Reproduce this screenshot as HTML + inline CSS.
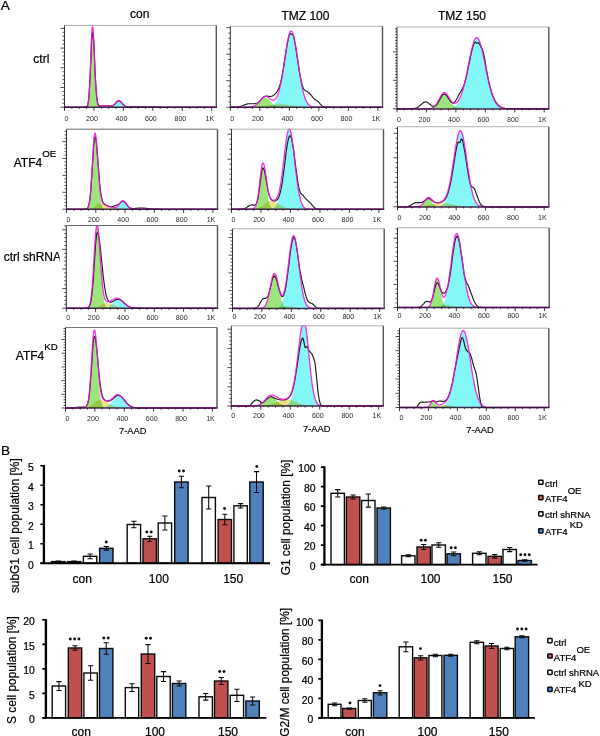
<!DOCTYPE html>
<html><head><meta charset="utf-8"><title>Figure</title>
<style>
html,body{margin:0;padding:0;background:#fff;}
body{width:600px;height:736px;overflow:hidden;}
svg{display:block;}
svg text{font-family:"Liberation Sans",sans-serif;fill:#000;stroke:#000;stroke-width:0.22px;}
.pl{font-size:13.6px;}
.hd{font-size:12px;text-anchor:middle;}
.rl{font-size:12px;}
.sup{font-size:9.7px;}
.tk{font-size:7.1px;text-anchor:middle;fill:#2a2a2a;stroke:none;}
.aad{font-size:9.3px;text-anchor:middle;fill:#111;stroke-width:0.2px;}
.yl{font-size:10.4px;text-anchor:end;}
.cat{font-size:12px;text-anchor:middle;}
.st{font-size:9px;text-anchor:middle;}
.ttl{font-size:11.9px;text-anchor:middle;}
.lg{font-size:9.5px;}
</style></head>
<body>
<svg width="600" height="736" viewBox="0 0 600 736">
<rect width="600" height="736" fill="#fff"/>
<text x="0.8" y="10.2" class="pl">A</text>
<text x="1.0" y="454.6" class="pl">B</text>
<text x="139.8" y="18.4" class="hd">con</text>
<text x="305.4" y="19.6" class="hd">TMZ 100</text>
<text x="462" y="20.4" class="hd">TMZ 150</text>
<text x="33.3" y="63" class="rl">ctrl</text>
<text x="13.7" y="166.8" class="rl">ATF4<tspan dy="-10.1" class="sup">OE</tspan></text>
<svg x="0" y="240" width="59.6" height="30" viewBox="0 240 59.6 30"><text x="3.7" y="261.3" class="rl">ctrl shRNA</text></svg>
<text x="15.8" y="359.8" class="rl">ATF4<tspan dy="-9.7" class="sup">KD</tspan></text>
<g>
<path d="M88.0,107.20 L88.0,107.19 L88.8,107.19 L89.5,107.18 L90.2,107.17 L91.0,107.15 L91.8,107.13 L92.5,107.09 L93.2,107.05 L94.0,107.00 L94.8,106.93 L95.5,106.85 L96.2,106.75 L97.0,106.64 L97.8,106.51 L98.5,106.38 L99.2,106.24 L100.0,106.11 L100.8,105.99 L101.5,105.88 L102.2,105.79 L103.0,105.73 L103.8,105.70 L104.5,105.70 L105.2,105.72 L106.0,105.76 L106.8,105.81 L107.5,105.88 L108.2,105.95 L109.0,106.04 L109.8,106.13 L110.5,106.23 L111.2,106.32 L112.0,106.42 L112.8,106.51 L113.5,106.60 L114.2,106.69 L115.0,106.76 L115.8,106.83 L116.5,106.90 L117.2,106.95 L118.0,107.00 L118.8,107.04 L119.5,107.07 L120.2,107.10 L121.0,107.12 L121.8,107.14 L122.5,107.15 L123.2,107.17 L124.0,107.17 L124.8,107.18 L125.5,107.19 L126.2,107.19 L126.2,107.20 Z" fill="#f3e08c" style="mix-blend-mode:multiply"/>
<path d="M86.9,107.20 L86.9,106.71 L87.7,105.45 L88.4,101.96 L89.2,94.16 L89.9,80.17 L90.7,60.59 L91.4,40.31 L92.2,27.31 L92.9,27.40 L93.7,38.71 L94.4,56.50 L95.2,74.83 L95.9,89.38 L96.7,98.73 L97.4,103.73 L98.2,105.97 L98.2,107.20 Z" fill="#9be57c" style="mix-blend-mode:multiply"/>
<path d="M109.2,107.20 L109.2,107.16 L109.9,107.11 L110.7,107.03 L111.4,106.87 L112.2,106.61 L112.9,106.21 L113.7,105.64 L114.4,104.89 L115.2,103.99 L115.9,103.00 L116.7,102.03 L117.4,101.24 L118.2,100.73 L118.9,100.61 L119.7,100.87 L120.4,101.47 L121.2,102.31 L121.9,103.26 L122.7,104.21 L123.4,105.06 L124.2,105.75 L124.9,106.28 L125.7,106.65 L126.4,106.89 L127.2,107.03 L127.9,107.12 L128.7,107.16 L128.7,107.20 Z" fill="#84f7f7" style="mix-blend-mode:multiply"/>
<path d="M64.5,107.20 L65.2,107.20 L66.0,107.20 L66.8,107.20 L67.5,107.20 L68.2,107.20 L69.0,107.20 L69.8,107.20 L70.5,107.20 L71.2,107.20 L72.0,107.20 L72.8,107.20 L73.5,107.20 L74.2,107.20 L75.0,107.20 L75.8,107.20 L76.5,107.20 L77.2,107.20 L78.0,107.20 L78.8,107.20 L79.5,107.20 L80.2,107.20 L81.0,107.20 L81.8,107.20 L82.5,107.20 L83.2,107.20 L84.0,107.20 L84.8,107.19 L85.5,107.15 L86.2,106.99 L87.0,106.42 L87.8,104.76 L88.5,100.71 L89.2,92.53 L90.0,79.05 L90.8,61.36 L91.5,43.86 L92.2,32.94 L93.0,32.98 L93.8,42.50 L94.5,57.80 L95.2,74.11 L96.0,87.67 L96.8,96.91 L97.5,102.17 L98.2,104.68 L99.0,105.65 L99.8,105.91 L100.5,105.90 L101.2,105.81 L102.0,105.72 L102.8,105.65 L103.5,105.61 L104.2,105.60 L105.0,105.62 L105.8,105.65 L106.5,105.70 L107.2,105.76 L108.0,105.83 L108.8,105.90 L109.5,105.96 L110.2,106.00 L111.0,105.99 L111.8,105.90 L112.5,105.70 L113.2,105.35 L114.0,104.84 L114.8,104.17 L115.5,103.38 L116.2,102.54 L117.0,101.76 L117.8,101.16 L118.5,100.84 L119.2,100.86 L120.0,101.19 L120.8,101.77 L121.5,102.54 L122.2,103.39 L123.0,104.23 L123.8,104.98 L124.5,105.61 L125.2,106.10 L126.0,106.45 L126.8,106.68 L127.5,106.82 L128.2,106.89 L129.0,106.93 L129.8,106.94 L130.5,106.93 L131.2,106.91 L132.0,106.90 L132.8,106.88 L133.5,106.86 L134.2,106.84 L135.0,106.83 L135.8,106.82 L136.5,106.81 L137.2,106.80 L138.0,106.80 L138.8,106.80 L139.5,106.81 L140.2,106.82 L141.0,106.83 L141.8,106.84 L142.5,106.86 L143.2,106.88 L144.0,106.90 L144.8,106.92 L145.5,106.94 L146.2,106.96 L147.0,106.99 L147.8,107.01 L148.5,107.03 L149.2,107.05 L150.0,107.07 L150.8,107.09 L151.5,107.10 L152.2,107.12 L153.0,107.13 L153.8,107.14 L154.5,107.15 L155.2,107.16 L156.0,107.17 L156.8,107.17 L157.5,107.18 L158.2,107.18 L159.0,107.19 L159.8,107.19 L160.5,107.19 L161.2,107.19 L162.0,107.20 L162.8,107.20 L163.5,107.20 L164.2,107.20 L165.0,107.20 L165.8,107.20 L166.5,107.20 L167.2,107.20 L168.0,107.20 L168.8,107.20 L169.5,107.20 L170.2,107.20 L171.0,107.20 L171.8,107.20 L172.5,107.20 L173.2,107.20 L174.0,107.20 L174.8,107.20 L175.5,107.20 L176.2,107.20 L177.0,107.20 L177.8,107.20 L178.5,107.20 L179.2,107.20 L180.0,107.20 L180.8,107.20 L181.5,107.20 L182.2,107.20 L183.0,107.20 L183.8,107.20 L184.5,107.20 L185.2,107.20 L186.0,107.20 L186.8,107.20 L187.5,107.20 L188.2,107.20 L189.0,107.20 L189.8,107.20 L190.5,107.20 L191.2,107.20 L192.0,107.20 L192.8,107.20 L193.5,107.20 L194.2,107.20 L195.0,107.20 L195.8,107.20 L196.5,107.20 L197.2,107.20 L198.0,107.20 L198.8,107.20 L199.5,107.20 L200.2,107.20 L201.0,107.20 L201.8,107.20 L202.5,107.20 L203.2,107.20 L204.0,107.20 L204.8,107.20 L205.5,107.20 L206.2,107.20 L207.0,107.20 L207.8,107.20 L208.5,107.20 L209.2,107.20 L210.0,107.20 L210.8,107.20 L211.5,107.20 L212.2,107.20 L213.0,107.20 L213.8,107.20 L214.5,107.20 L215.2,107.20" fill="none" stroke="#1c1c1c" stroke-width="1.15" stroke-linejoin="round"/>
<path d="M64.5,107.20 L65.2,107.20 L66.0,107.20 L66.8,107.20 L67.5,107.20 L68.2,107.20 L69.0,107.20 L69.8,107.20 L70.5,107.20 L71.2,107.20 L72.0,107.20 L72.8,107.20 L73.5,107.20 L74.2,107.20 L75.0,107.20 L75.8,107.20 L76.5,107.20 L77.2,107.20 L78.0,107.20 L78.8,107.20 L79.5,107.20 L80.2,107.20 L81.0,107.20 L81.8,107.20 L82.5,107.20 L83.2,107.20 L84.0,107.20 L84.8,107.19 L85.5,107.17 L86.2,107.06 L87.0,106.61 L87.8,105.14 L88.5,101.21 L89.2,92.65 L90.0,77.79 L90.8,57.72 L91.5,37.91 L92.2,26.43 L93.0,28.20 L93.8,40.65 L94.5,58.79 L95.2,76.73 L96.0,90.50 L96.8,99.10 L97.5,103.51 L98.2,105.37 L99.0,105.98 L99.8,106.07 L100.5,106.01 L101.2,105.91 L102.0,105.81 L102.8,105.75 L103.5,105.71 L104.2,105.70 L105.0,105.72 L105.8,105.75 L106.5,105.79 L107.2,105.85 L108.0,105.92 L108.8,105.98 L109.5,106.04 L110.2,106.08 L111.0,106.07 L111.8,105.97 L112.5,105.75 L113.2,105.38 L114.0,104.82 L114.8,104.09 L115.5,103.21 L116.2,102.28 L117.0,101.42 L117.8,100.77 L118.5,100.46 L119.2,100.53 L120.0,100.97 L120.8,101.70 L121.5,102.62 L122.2,103.60 L123.0,104.53 L123.8,105.33 L124.5,105.96 L125.2,106.43 L126.0,106.74 L126.8,106.95 L127.5,107.07 L128.2,107.13 L129.0,107.17 L129.8,107.19 L130.5,107.19 L131.2,107.20 L132.0,107.20 L132.8,107.20 L133.5,107.20 L134.2,107.20 L135.0,107.20 L135.8,107.20 L136.5,107.20 L137.2,107.20 L138.0,107.20 L138.8,107.20 L139.5,107.20 L140.2,107.20 L141.0,107.20 L141.8,107.20 L142.5,107.20 L143.2,107.20 L144.0,107.20 L144.8,107.20 L145.5,107.20 L146.2,107.20 L147.0,107.20 L147.8,107.20 L148.5,107.20 L149.2,107.20 L150.0,107.20 L150.8,107.20 L151.5,107.20 L152.2,107.20 L153.0,107.20 L153.8,107.20 L154.5,107.20 L155.2,107.20 L156.0,107.20 L156.8,107.20 L157.5,107.20 L158.2,107.20 L159.0,107.20 L159.8,107.20 L160.5,107.20 L161.2,107.20 L162.0,107.20 L162.8,107.20 L163.5,107.20 L164.2,107.20 L165.0,107.20 L165.8,107.20 L166.5,107.20 L167.2,107.20 L168.0,107.20 L168.8,107.20 L169.5,107.20 L170.2,107.20 L171.0,107.20 L171.8,107.20 L172.5,107.20 L173.2,107.20 L174.0,107.20 L174.8,107.20 L175.5,107.20 L176.2,107.20 L177.0,107.20 L177.8,107.20 L178.5,107.20 L179.2,107.20 L180.0,107.20 L180.8,107.20 L181.5,107.20 L182.2,107.20 L183.0,107.20 L183.8,107.20 L184.5,107.20 L185.2,107.20 L186.0,107.20 L186.8,107.20 L187.5,107.20 L188.2,107.20 L189.0,107.20 L189.8,107.20 L190.5,107.20 L191.2,107.20 L192.0,107.20 L192.8,107.20 L193.5,107.20 L194.2,107.20 L195.0,107.20 L195.8,107.20 L196.5,107.20 L197.2,107.20 L198.0,107.20 L198.8,107.20 L199.5,107.20 L200.2,107.20 L201.0,107.20 L201.8,107.20 L202.5,107.20 L203.2,107.20 L204.0,107.20 L204.8,107.20 L205.5,107.20 L206.2,107.20 L207.0,107.20 L207.8,107.20 L208.5,107.20 L209.2,107.20 L210.0,107.20 L210.8,107.20 L211.5,107.20 L212.2,107.20 L213.0,107.20 L213.8,107.20 L214.5,107.20 L215.2,107.20" fill="none" stroke="#f014dc" stroke-width="1.3" stroke-linejoin="round" opacity="0.88"/>
<path d="M64.5,25.4 H216.3" stroke="#b0b0b0" stroke-width="1" fill="none"/>
<path d="M216.3,25.4 V107.2" stroke="#555" stroke-width="1.4" fill="none"/>
<path d="M64.5,25.4 V107.2" stroke="#333" stroke-width="1.0" fill="none"/>
<path d="M64.0,107.30 H217.0" stroke="#30103a" stroke-width="1.5" fill="none" opacity="0.9"/>
<path d="M64.50,107.2 v3.6 M71.86,107.2 v1.6 M79.22,107.2 v1.6 M86.58,107.2 v1.6 M93.94,107.2 v3.6 M101.30,107.2 v1.6 M108.66,107.2 v1.6 M116.02,107.2 v1.6 M123.38,107.2 v3.6 M130.74,107.2 v1.6 M138.10,107.2 v1.6 M145.46,107.2 v1.6 M152.82,107.2 v3.6 M160.18,107.2 v1.6 M167.54,107.2 v1.6 M174.90,107.2 v1.6 M182.26,107.2 v3.6 M189.62,107.2 v1.6 M196.98,107.2 v1.6 M204.34,107.2 v1.6 M211.70,107.2 v3.6" stroke="#222" stroke-width="0.9" fill="none"/>
<path d="M64.5,107.20 h-4.0 M64.5,103.26 h-2.0 M64.5,99.32 h-2.0 M64.5,95.38 h-2.0 M64.5,91.44 h-2.0 M64.5,87.50 h-4.0 M64.5,83.56 h-2.0 M64.5,79.62 h-2.0 M64.5,75.68 h-2.0 M64.5,71.74 h-2.0 M64.5,67.80 h-4.0 M64.5,63.86 h-2.0 M64.5,59.92 h-2.0 M64.5,55.98 h-2.0 M64.5,52.04 h-2.0 M64.5,48.10 h-4.0 M64.5,44.16 h-2.0 M64.5,40.22 h-2.0 M64.5,36.28 h-2.0 M64.5,32.34 h-2.0 M64.5,28.40 h-4.0" stroke="#222" stroke-width="0.8" fill="none"/>
<text x="66.5" y="121.1" class="tk">0</text>
<text x="92.0" y="121.1" class="tk">200</text>
<text x="121.5" y="121.1" class="tk">400</text>
<text x="150.9" y="121.1" class="tk">600</text>
<text x="180.4" y="121.1" class="tk">800</text>
<text x="209.8" y="121.1" class="tk">1K</text>
</g>
<g>
<path d="M244.8,107.20 L244.8,107.18 L245.6,107.18 L246.3,107.17 L247.1,107.17 L247.8,107.16 L248.6,107.15 L249.3,107.14 L250.1,107.13 L250.8,107.11 L251.6,107.10 L252.3,107.08 L253.1,107.06 L253.8,107.03 L254.6,107.00 L255.3,106.97 L256.1,106.93 L256.8,106.89 L257.6,106.84 L258.3,106.79 L259.1,106.73 L259.8,106.66 L260.6,106.59 L261.3,106.52 L262.1,106.43 L262.8,106.35 L263.6,106.25 L264.3,106.15 L265.1,106.05 L265.8,105.94 L266.6,105.83 L267.3,105.71 L268.1,105.59 L268.8,105.47 L269.6,105.35 L270.3,105.23 L271.1,105.12 L271.8,105.00 L272.6,104.89 L273.3,104.79 L274.1,104.69 L274.8,104.61 L275.6,104.53 L276.3,104.46 L277.1,104.40 L277.8,104.36 L278.6,104.33 L279.3,104.31 L280.1,104.30 L280.8,104.31 L281.6,104.33 L282.3,104.36 L283.1,104.41 L283.8,104.47 L284.6,104.54 L285.3,104.62 L286.1,104.71 L286.8,104.80 L287.6,104.91 L288.3,105.02 L289.1,105.13 L289.8,105.25 L290.6,105.37 L291.3,105.49 L292.1,105.61 L292.8,105.73 L293.6,105.84 L294.3,105.95 L295.1,106.06 L295.8,106.17 L296.6,106.26 L297.3,106.36 L298.1,106.45 L298.8,106.53 L299.6,106.60 L300.3,106.67 L301.1,106.74 L301.8,106.79 L302.6,106.85 L303.3,106.89 L304.1,106.93 L304.8,106.97 L305.6,107.00 L306.3,107.03 L307.1,107.06 L307.8,107.08 L308.6,107.10 L309.3,107.12 L310.1,107.13 L310.8,107.14 L311.6,107.15 L312.3,107.16 L313.1,107.17 L313.8,107.17 L314.6,107.18 L314.6,107.20 Z" fill="#f3e08c" style="mix-blend-mode:multiply"/>
<path d="M248.6,107.20 L248.6,107.14 L249.3,107.11 L250.1,107.06 L250.8,106.99 L251.6,106.89 L252.3,106.76 L253.1,106.57 L253.8,106.33 L254.6,106.02 L255.3,105.63 L256.1,105.15 L256.8,104.59 L257.6,103.94 L258.3,103.21 L259.1,102.42 L259.8,101.59 L260.6,100.75 L261.3,99.94 L262.1,99.20 L262.8,98.56 L263.6,98.07 L264.3,97.74 L265.1,97.60 L265.8,97.67 L266.6,97.92 L267.3,98.36 L268.1,98.95 L268.8,99.66 L269.6,100.45 L270.3,101.28 L271.1,102.11 L271.8,102.92 L272.6,103.67 L273.3,104.36 L274.1,104.95 L274.8,105.46 L275.6,105.88 L276.3,106.22 L277.1,106.49 L277.8,106.69 L278.6,106.85 L279.3,106.96 L280.1,107.04 L280.8,107.09 L281.6,107.13 L281.6,107.20 Z" fill="#9be57c" style="mix-blend-mode:multiply"/>
<path d="M270.4,107.20 L270.4,106.75 L271.1,106.56 L271.9,106.29 L272.6,105.93 L273.4,105.45 L274.1,104.81 L274.9,103.99 L275.6,102.94 L276.4,101.62 L277.1,100.00 L277.9,98.02 L278.6,95.65 L279.4,92.86 L280.1,89.64 L280.9,85.97 L281.6,81.88 L282.4,77.40 L283.1,72.60 L283.9,67.55 L284.6,62.36 L285.4,57.17 L286.1,52.11 L286.9,47.34 L287.6,43.02 L288.4,39.30 L289.1,36.31 L289.9,34.18 L290.6,32.97 L291.4,32.73 L292.1,33.45 L292.9,35.06 L293.6,37.52 L294.4,40.73 L295.1,44.58 L295.9,48.95 L296.6,53.68 L297.4,58.65 L298.1,63.70 L298.9,68.71 L299.6,73.57 L300.4,78.18 L301.1,82.47 L301.9,86.39 L302.6,89.90 L303.4,93.00 L304.1,95.69 L304.9,97.99 L305.6,99.92 L306.4,101.52 L307.1,102.82 L307.9,103.87 L308.6,104.69 L309.4,105.34 L310.1,105.84 L310.9,106.21 L311.6,106.49 L312.4,106.70 L312.4,107.20 Z" fill="#84f7f7" style="mix-blend-mode:multiply"/>
<path d="M230.3,107.20 L231.1,107.19 L231.8,107.19 L232.6,107.18 L233.3,107.18 L234.1,107.16 L234.8,107.14 L235.6,107.11 L236.3,107.06 L237.1,107.00 L237.8,106.92 L238.6,106.81 L239.3,106.68 L240.1,106.51 L240.8,106.31 L241.6,106.07 L242.3,105.81 L243.1,105.51 L243.8,105.21 L244.6,104.90 L245.3,104.59 L246.1,104.32 L246.8,104.08 L247.6,103.90 L248.3,103.78 L249.1,103.73 L249.8,103.73 L250.6,103.74 L251.3,103.75 L252.1,103.78 L252.8,103.79 L253.6,103.79 L254.3,103.75 L255.1,103.66 L255.8,103.51 L256.6,103.26 L257.3,102.92 L258.1,102.45 L258.8,101.88 L259.6,101.19 L260.3,100.42 L261.1,99.61 L261.8,98.78 L262.6,98.01 L263.3,97.33 L264.1,96.79 L264.8,96.42 L265.6,96.22 L266.3,96.15 L267.1,96.16 L267.8,96.24 L268.6,96.34 L269.3,96.42 L270.1,96.45 L270.8,96.39 L271.6,96.24 L272.3,95.98 L273.1,95.61 L273.8,95.14 L274.6,94.54 L275.3,93.83 L276.1,92.98 L276.8,91.99 L277.6,90.80 L278.3,89.36 L279.1,87.57 L279.8,85.37 L280.6,82.72 L281.3,79.57 L282.1,75.94 L282.8,71.85 L283.6,67.39 L284.3,62.65 L285.1,57.76 L285.8,52.86 L286.6,48.13 L287.3,43.73 L288.1,39.81 L288.8,36.58 L289.6,34.40 L290.3,33.74 L291.1,34.10 L291.8,34.13 L292.6,34.19 L293.3,35.62 L294.1,38.44 L294.8,42.15 L295.6,46.47 L296.3,51.21 L297.1,56.22 L297.8,61.31 L298.6,66.31 L299.3,71.09 L300.1,75.48 L300.8,79.39 L301.6,82.73 L302.3,85.44 L303.1,87.53 L303.8,89.04 L304.6,90.04 L305.3,90.66 L306.1,91.04 L306.8,91.33 L307.6,91.68 L308.3,92.19 L309.1,92.90 L309.8,93.67 L310.6,94.53 L311.3,95.44 L312.1,96.39 L312.8,97.33 L313.6,98.19 L314.3,98.93 L315.1,99.54 L315.8,100.04 L316.6,100.50 L317.3,101.00 L318.1,101.61 L318.8,102.36 L319.6,103.22 L320.3,104.11 L321.1,104.94 L321.8,105.64 L322.6,106.18 L323.3,106.57 L324.1,106.82 L324.8,106.98 L325.6,107.07 L326.3,107.12 L327.1,107.15 L327.8,107.17 L328.6,107.18 L329.3,107.19 L330.1,107.19 L330.8,107.20 L331.6,107.20 L332.3,107.20 L333.1,107.20 L333.8,107.20 L334.6,107.20 L335.3,107.20 L336.1,107.20 L336.8,107.20 L337.6,107.20 L338.3,107.20 L339.1,107.20 L339.8,107.20 L340.6,107.20 L341.3,107.20 L342.1,107.20 L342.8,107.20 L343.6,107.20 L344.3,107.20 L345.1,107.20 L345.8,107.20 L346.6,107.20 L347.3,107.20 L348.1,107.20 L348.8,107.20 L349.6,107.20 L350.3,107.20 L351.1,107.20 L351.8,107.20 L352.6,107.20 L353.3,107.20 L354.1,107.20 L354.8,107.20 L355.6,107.20 L356.3,107.20 L357.1,107.20 L357.8,107.20 L358.6,107.20 L359.3,107.20 L360.1,107.20 L360.8,107.20 L361.6,107.20 L362.3,107.20 L363.1,107.20 L363.8,107.20 L364.6,107.20 L365.3,107.20 L366.1,107.20 L366.8,107.20 L367.6,107.20 L368.3,107.20 L369.1,107.20 L369.8,107.20 L370.6,107.20 L371.3,107.20 L372.1,107.20 L372.8,107.20 L373.6,107.20 L374.3,107.20 L375.1,107.20 L375.8,107.20 L376.6,107.20 L377.3,107.20 L378.1,107.20 L378.8,107.20 L379.6,107.20 L380.3,107.20 L381.1,107.20" fill="none" stroke="#1c1c1c" stroke-width="1.15" stroke-linejoin="round"/>
<path d="M230.3,107.20 L231.1,107.20 L231.8,107.20 L232.6,107.20 L233.3,107.20 L234.1,107.20 L234.8,107.20 L235.6,107.20 L236.3,107.20 L237.1,107.20 L237.8,107.20 L238.6,107.20 L239.3,107.20 L240.1,107.20 L240.8,107.19 L241.6,107.19 L242.3,107.19 L243.1,107.19 L243.8,107.19 L244.6,107.18 L245.3,107.17 L246.1,107.16 L246.8,107.15 L247.6,107.13 L248.3,107.11 L249.1,107.07 L249.8,107.01 L250.6,106.94 L251.3,106.83 L252.1,106.69 L252.8,106.50 L253.6,106.26 L254.3,105.94 L255.1,105.55 L255.8,105.07 L256.6,104.49 L257.3,103.83 L258.1,103.07 L258.8,102.25 L259.6,101.36 L260.3,100.46 L261.1,99.56 L261.8,98.71 L262.6,97.94 L263.3,97.30 L264.1,96.81 L264.8,96.49 L265.6,96.37 L266.3,96.43 L267.1,96.66 L267.8,97.05 L268.6,97.54 L269.3,98.10 L270.1,98.69 L270.8,99.24 L271.6,99.71 L272.3,100.06 L273.1,100.24 L273.8,100.21 L274.6,99.93 L275.3,99.36 L276.1,98.47 L276.8,97.22 L277.6,95.59 L278.3,93.54 L279.1,91.05 L279.8,88.11 L280.6,84.72 L281.3,80.88 L282.1,76.64 L282.8,72.04 L283.6,67.16 L284.3,62.09 L285.1,56.97 L285.8,51.91 L286.6,47.09 L287.3,42.64 L288.1,38.73 L288.8,35.50 L289.6,33.07 L290.3,31.54 L291.1,30.97 L291.8,31.37 L292.6,32.68 L293.3,34.87 L294.1,37.86 L294.8,41.54 L295.6,45.79 L296.3,50.47 L297.1,55.44 L297.8,60.56 L298.6,65.68 L299.3,70.70 L300.1,75.51 L300.8,80.02 L301.6,84.18 L302.3,87.94 L303.1,91.29 L303.8,94.21 L304.6,96.73 L305.3,98.86 L306.1,100.64 L306.8,102.10 L307.6,103.28 L308.3,104.23 L309.1,104.97 L309.8,105.55 L310.6,105.99 L311.3,106.32 L312.1,106.57 L312.8,106.75 L313.6,106.89 L314.3,106.98 L315.1,107.05 L315.8,107.10 L316.6,107.13 L317.3,107.15 L318.1,107.17 L318.8,107.18 L319.6,107.19 L320.3,107.19 L321.1,107.19 L321.8,107.20 L322.6,107.20 L323.3,107.20 L324.1,107.20 L324.8,107.20 L325.6,107.20 L326.3,107.20 L327.1,107.20 L327.8,107.20 L328.6,107.20 L329.3,107.20 L330.1,107.20 L330.8,107.20 L331.6,107.20 L332.3,107.20 L333.1,107.20 L333.8,107.20 L334.6,107.20 L335.3,107.20 L336.1,107.20 L336.8,107.20 L337.6,107.20 L338.3,107.20 L339.1,107.20 L339.8,107.20 L340.6,107.20 L341.3,107.20 L342.1,107.20 L342.8,107.20 L343.6,107.20 L344.3,107.20 L345.1,107.20 L345.8,107.20 L346.6,107.20 L347.3,107.20 L348.1,107.20 L348.8,107.20 L349.6,107.20 L350.3,107.20 L351.1,107.20 L351.8,107.20 L352.6,107.20 L353.3,107.20 L354.1,107.20 L354.8,107.20 L355.6,107.20 L356.3,107.20 L357.1,107.20 L357.8,107.20 L358.6,107.20 L359.3,107.20 L360.1,107.20 L360.8,107.20 L361.6,107.20 L362.3,107.20 L363.1,107.20 L363.8,107.20 L364.6,107.20 L365.3,107.20 L366.1,107.20 L366.8,107.20 L367.6,107.20 L368.3,107.20 L369.1,107.20 L369.8,107.20 L370.6,107.20 L371.3,107.20 L372.1,107.20 L372.8,107.20 L373.6,107.20 L374.3,107.20 L375.1,107.20 L375.8,107.20 L376.6,107.20 L377.3,107.20 L378.1,107.20 L378.8,107.20 L379.6,107.20 L380.3,107.20 L381.1,107.20" fill="none" stroke="#f014dc" stroke-width="1.3" stroke-linejoin="round" opacity="0.88"/>
<path d="M230.3,26.3 H382.5" stroke="#b0b0b0" stroke-width="1" fill="none"/>
<path d="M382.5,26.3 V107.2" stroke="#555" stroke-width="1.4" fill="none"/>
<path d="M230.3,26.3 V107.2" stroke="#333" stroke-width="1.0" fill="none"/>
<path d="M229.8,107.30 H383.2" stroke="#30103a" stroke-width="1.5" fill="none" opacity="0.9"/>
<path d="M230.30,107.2 v3.6 M237.68,107.2 v1.6 M245.06,107.2 v1.6 M252.44,107.2 v1.6 M259.82,107.2 v3.6 M267.20,107.2 v1.6 M274.58,107.2 v1.6 M281.96,107.2 v1.6 M289.34,107.2 v3.6 M296.72,107.2 v1.6 M304.10,107.2 v1.6 M311.48,107.2 v1.6 M318.86,107.2 v3.6 M326.24,107.2 v1.6 M333.62,107.2 v1.6 M341.00,107.2 v1.6 M348.38,107.2 v3.6 M355.76,107.2 v1.6 M363.14,107.2 v1.6 M370.52,107.2 v1.6 M377.90,107.2 v3.6" stroke="#222" stroke-width="0.9" fill="none"/>
<path d="M230.3,107.20 h-4.0 M230.3,101.90 h-2.0 M230.3,96.60 h-2.0 M230.3,91.30 h-2.0 M230.3,86.00 h-2.0 M230.3,80.70 h-4.0 M230.3,75.40 h-2.0 M230.3,70.10 h-2.0 M230.3,64.80 h-2.0 M230.3,59.50 h-2.0 M230.3,54.20 h-4.0 M230.3,48.90 h-2.0 M230.3,43.60 h-2.0 M230.3,38.30 h-2.0 M230.3,33.00 h-2.0 M230.3,27.70 h-4.0" stroke="#222" stroke-width="0.8" fill="none"/>
<text x="232.3" y="121.2" class="tk">0</text>
<text x="257.9" y="121.2" class="tk">200</text>
<text x="287.4" y="121.2" class="tk">400</text>
<text x="317.0" y="121.2" class="tk">600</text>
<text x="346.5" y="121.2" class="tk">800</text>
<text x="376.0" y="121.2" class="tk">1K</text>
</g>
<g>
<path d="M438.8,108.80 L438.8,108.79 L439.6,108.79 L440.3,108.78 L441.1,108.77 L441.8,108.76 L442.6,108.75 L443.3,108.73 L444.1,108.70 L444.8,108.67 L445.6,108.63 L446.3,108.58 L447.1,108.52 L447.8,108.45 L448.6,108.37 L449.3,108.28 L450.1,108.18 L450.8,108.07 L451.6,107.96 L452.3,107.84 L453.1,107.73 L453.8,107.63 L454.6,107.53 L455.3,107.44 L456.1,107.38 L456.8,107.33 L457.6,107.30 L458.3,107.30 L459.1,107.32 L459.8,107.37 L460.6,107.43 L461.3,107.51 L462.1,107.61 L462.8,107.71 L463.6,107.82 L464.3,107.94 L465.1,108.05 L465.8,108.16 L466.6,108.26 L467.3,108.35 L468.1,108.43 L468.8,108.50 L469.6,108.56 L470.3,108.62 L471.1,108.66 L471.8,108.69 L472.6,108.72 L473.3,108.74 L474.1,108.76 L474.8,108.77 L475.6,108.78 L476.3,108.79 L477.1,108.79 L477.1,108.80 Z" fill="#f3e08c" style="mix-blend-mode:multiply"/>
<path d="M428.2,108.80 L428.2,108.70 L428.9,108.65 L429.7,108.56 L430.4,108.44 L431.2,108.26 L431.9,108.00 L432.7,107.66 L433.4,107.21 L434.2,106.63 L434.9,105.91 L435.7,105.03 L436.4,103.99 L437.2,102.80 L437.9,101.47 L438.7,100.06 L439.4,98.61 L440.2,97.18 L440.9,95.85 L441.7,94.68 L442.4,93.75 L443.2,93.12 L443.9,92.82 L444.7,92.87 L445.4,93.26 L446.2,93.94 L446.9,94.89 L447.7,96.04 L448.4,97.34 L449.2,98.72 L449.9,100.12 L450.7,101.47 L451.4,102.75 L452.2,103.90 L452.9,104.92 L453.7,105.78 L454.4,106.51 L455.2,107.09 L455.9,107.55 L456.7,107.91 L457.4,108.18 L458.2,108.37 L458.9,108.51 L459.7,108.61 L460.4,108.68 L460.4,108.80 Z" fill="#9be57c" style="mix-blend-mode:multiply"/>
<path d="M450.1,108.80 L450.1,108.37 L450.9,108.23 L451.6,108.05 L452.4,107.82 L453.1,107.53 L453.9,107.17 L454.6,106.72 L455.4,106.16 L456.1,105.49 L456.9,104.67 L457.6,103.70 L458.4,102.55 L459.1,101.21 L459.9,99.64 L460.6,97.85 L461.4,95.81 L462.1,93.52 L462.9,90.96 L463.6,88.15 L464.4,85.10 L465.1,81.81 L465.9,78.31 L466.6,74.64 L467.4,70.84 L468.1,66.97 L468.9,63.07 L469.6,59.21 L470.4,55.47 L471.1,51.91 L471.9,48.61 L472.6,45.63 L473.4,43.04 L474.1,40.91 L474.9,39.27 L475.6,38.18 L476.4,37.65 L477.1,37.69 L477.9,38.28 L478.6,39.39 L479.4,41.00 L480.1,43.07 L480.9,45.57 L481.6,48.43 L482.4,51.60 L483.1,55.01 L483.9,58.60 L484.6,62.31 L485.4,66.07 L486.1,69.82 L486.9,73.51 L487.6,77.10 L488.4,80.53 L489.1,83.79 L489.9,86.84 L490.6,89.66 L491.4,92.25 L492.1,94.59 L492.9,96.70 L493.6,98.57 L494.4,100.22 L495.1,101.65 L495.9,102.89 L496.6,103.96 L497.4,104.86 L498.1,105.62 L498.9,106.25 L499.6,106.77 L500.4,107.20 L501.1,107.54 L501.9,107.82 L502.6,108.05 L503.4,108.22 L504.1,108.36 L504.1,108.80 Z" fill="#84f7f7" style="mix-blend-mode:multiply"/>
<path d="M397.0,108.80 L397.8,108.80 L398.5,108.80 L399.2,108.80 L400.0,108.80 L400.8,108.80 L401.5,108.80 L402.2,108.80 L403.0,108.80 L403.8,108.80 L404.5,108.80 L405.2,108.80 L406.0,108.80 L406.8,108.80 L407.5,108.80 L408.2,108.79 L409.0,108.78 L409.8,108.77 L410.5,108.76 L411.2,108.73 L412.0,108.69 L412.8,108.63 L413.5,108.54 L414.2,108.42 L415.0,108.25 L415.8,108.03 L416.5,107.74 L417.2,107.39 L418.0,106.96 L418.8,106.45 L419.5,105.88 L420.2,105.26 L421.0,104.61 L421.8,103.97 L422.5,103.35 L423.2,102.81 L424.0,102.37 L424.8,102.06 L425.5,101.91 L426.2,101.93 L427.0,102.15 L427.8,102.55 L428.5,103.09 L429.2,103.72 L430.0,104.39 L430.8,105.04 L431.5,105.61 L432.2,106.06 L433.0,106.35 L433.8,106.44 L434.5,106.33 L435.2,105.98 L436.0,105.40 L436.8,104.59 L437.5,103.57 L438.2,102.36 L439.0,101.02 L439.8,99.60 L440.5,98.19 L441.2,96.87 L442.0,95.72 L442.8,94.83 L443.5,94.27 L444.2,94.07 L445.0,94.22 L445.8,94.70 L446.5,95.47 L447.2,96.45 L448.0,97.59 L448.8,98.78 L449.5,99.95 L450.2,101.01 L451.0,101.89 L451.8,102.53 L452.5,102.88 L453.2,102.90 L454.0,102.59 L454.8,101.95 L455.5,101.01 L456.2,99.83 L457.0,98.48 L457.8,97.03 L458.5,95.57 L459.2,94.15 L460.0,92.80 L460.8,91.57 L461.5,90.38 L462.2,89.10 L463.0,87.61 L463.8,85.80 L464.5,83.61 L465.2,81.01 L466.0,78.04 L466.8,74.76 L467.5,71.25 L468.2,67.59 L469.0,63.86 L469.8,60.16 L470.5,56.56 L471.2,53.14 L472.0,50.00 L472.8,47.19 L473.5,44.80 L474.2,42.97 L475.0,42.03 L475.8,42.30 L476.5,43.15 L477.2,43.24 L478.0,42.69 L478.8,42.79 L479.5,43.86 L480.2,45.37 L481.0,46.87 L481.8,48.27 L482.5,49.84 L483.2,52.15 L484.0,55.52 L484.8,59.54 L485.5,63.95 L486.2,68.42 L487.0,72.71 L487.8,76.66 L488.5,80.26 L489.2,83.52 L490.0,86.50 L490.8,89.22 L491.5,91.71 L492.2,93.98 L493.0,96.04 L493.8,97.89 L494.5,99.53 L495.2,100.98 L496.0,102.25 L496.8,103.35 L497.5,104.30 L498.2,105.11 L499.0,105.79 L499.8,106.36 L500.5,106.84 L501.2,107.24 L502.0,107.56 L502.8,107.83 L503.5,108.04 L504.2,108.21 L505.0,108.34 L505.8,108.45 L506.5,108.54 L507.2,108.60 L508.0,108.65 L508.8,108.69 L509.5,108.72 L510.2,108.74 L511.0,108.76 L511.8,108.77 L512.5,108.78 L513.2,108.78 L514.0,108.79 L514.8,108.79 L515.5,108.79 L516.2,108.80 L517.0,108.80 L517.8,108.80 L518.5,108.80 L519.2,108.80 L520.0,108.80 L520.8,108.80 L521.5,108.80 L522.2,108.80 L523.0,108.80 L523.8,108.80 L524.5,108.80 L525.2,108.80 L526.0,108.80 L526.8,108.80 L527.5,108.80 L528.2,108.80 L529.0,108.80 L529.8,108.80 L530.5,108.80 L531.2,108.80 L532.0,108.80 L532.8,108.80 L533.5,108.80 L534.2,108.80 L535.0,108.80 L535.8,108.80 L536.5,108.80 L537.2,108.80 L538.0,108.80 L538.8,108.80 L539.5,108.80 L540.2,108.80 L541.0,108.80 L541.8,108.80 L542.5,108.80 L543.2,108.80 L544.0,108.80 L544.8,108.80 L545.5,108.80 L546.2,108.80 L547.0,108.80 L547.8,108.80" fill="none" stroke="#1c1c1c" stroke-width="1.15" stroke-linejoin="round"/>
<path d="M397.0,108.80 L397.8,108.80 L398.5,108.80 L399.2,108.80 L400.0,108.80 L400.8,108.80 L401.5,108.80 L402.2,108.80 L403.0,108.80 L403.8,108.80 L404.5,108.80 L405.2,108.80 L406.0,108.80 L406.8,108.80 L407.5,108.80 L408.2,108.80 L409.0,108.80 L409.8,108.80 L410.5,108.80 L411.2,108.80 L412.0,108.80 L412.8,108.80 L413.5,108.80 L414.2,108.80 L415.0,108.80 L415.8,108.80 L416.5,108.80 L417.2,108.80 L418.0,108.80 L418.8,108.80 L419.5,108.80 L420.2,108.80 L421.0,108.80 L421.8,108.80 L422.5,108.80 L423.2,108.80 L424.0,108.80 L424.8,108.79 L425.5,108.79 L426.2,108.77 L427.0,108.76 L427.8,108.73 L428.5,108.68 L429.2,108.62 L430.0,108.52 L430.8,108.37 L431.5,108.16 L432.2,107.88 L433.0,107.50 L433.8,107.00 L434.5,106.36 L435.2,105.57 L436.0,104.63 L436.8,103.52 L437.5,102.28 L438.2,100.91 L439.0,99.47 L439.8,98.01 L440.5,96.61 L441.2,95.32 L442.0,94.22 L442.8,93.38 L443.5,92.85 L444.2,92.66 L445.0,92.80 L445.8,93.24 L446.5,93.96 L447.2,94.90 L448.0,95.99 L448.8,97.19 L449.5,98.40 L450.2,99.57 L451.0,100.65 L451.8,101.57 L452.5,102.32 L453.2,102.87 L454.0,103.20 L454.8,103.30 L455.5,103.19 L456.2,102.85 L457.0,102.29 L457.8,101.51 L458.5,100.51 L459.2,99.28 L460.0,97.82 L460.8,96.11 L461.5,94.16 L462.2,91.95 L463.0,89.48 L463.8,86.76 L464.5,83.79 L465.2,80.58 L466.0,77.16 L466.8,73.57 L467.5,69.85 L468.2,66.05 L469.0,62.22 L469.8,58.43 L470.5,54.76 L471.2,51.28 L472.0,48.05 L472.8,45.15 L473.5,42.65 L474.2,40.60 L475.0,39.05 L475.8,38.05 L476.5,37.61 L477.2,37.74 L478.0,38.40 L478.8,39.59 L479.5,41.27 L480.2,43.41 L481.0,45.97 L481.8,48.87 L482.5,52.08 L483.2,55.53 L484.0,59.14 L484.8,62.86 L485.5,66.62 L486.2,70.37 L487.0,74.05 L487.8,77.61 L488.5,81.02 L489.2,84.25 L490.0,87.27 L490.8,90.05 L491.5,92.61 L492.2,94.92 L493.0,96.99 L493.8,98.82 L494.5,100.44 L495.2,101.85 L496.0,103.06 L496.8,104.10 L497.5,104.98 L498.2,105.72 L499.0,106.33 L499.8,106.84 L500.5,107.25 L501.2,107.59 L502.0,107.86 L502.8,108.08 L503.5,108.25 L504.2,108.38 L505.0,108.48 L505.8,108.56 L506.5,108.62 L507.2,108.67 L508.0,108.71 L508.8,108.73 L509.5,108.75 L510.2,108.76 L511.0,108.77 L511.8,108.78 L512.5,108.79 L513.2,108.79 L514.0,108.79 L514.8,108.80 L515.5,108.80 L516.2,108.80 L517.0,108.80 L517.8,108.80 L518.5,108.80 L519.2,108.80 L520.0,108.80 L520.8,108.80 L521.5,108.80 L522.2,108.80 L523.0,108.80 L523.8,108.80 L524.5,108.80 L525.2,108.80 L526.0,108.80 L526.8,108.80 L527.5,108.80 L528.2,108.80 L529.0,108.80 L529.8,108.80 L530.5,108.80 L531.2,108.80 L532.0,108.80 L532.8,108.80 L533.5,108.80 L534.2,108.80 L535.0,108.80 L535.8,108.80 L536.5,108.80 L537.2,108.80 L538.0,108.80 L538.8,108.80 L539.5,108.80 L540.2,108.80 L541.0,108.80 L541.8,108.80 L542.5,108.80 L543.2,108.80 L544.0,108.80 L544.8,108.80 L545.5,108.80 L546.2,108.80 L547.0,108.80 L547.8,108.80" fill="none" stroke="#f014dc" stroke-width="1.3" stroke-linejoin="round" opacity="0.88"/>
<path d="M397,27 H548.8" stroke="#b0b0b0" stroke-width="1" fill="none"/>
<path d="M548.8,27 V108.8" stroke="#555" stroke-width="1.4" fill="none"/>
<path d="M397,27 V108.8" stroke="#333" stroke-width="1.0" fill="none"/>
<path d="M396.5,108.90 H549.5" stroke="#30103a" stroke-width="1.5" fill="none" opacity="0.9"/>
<path d="M397.00,108.8 v3.6 M404.36,108.8 v1.6 M411.72,108.8 v1.6 M419.08,108.8 v1.6 M426.44,108.8 v3.6 M433.80,108.8 v1.6 M441.16,108.8 v1.6 M448.52,108.8 v1.6 M455.88,108.8 v3.6 M463.24,108.8 v1.6 M470.60,108.8 v1.6 M477.96,108.8 v1.6 M485.32,108.8 v3.6 M492.68,108.8 v1.6 M500.04,108.8 v1.6 M507.40,108.8 v1.6 M514.76,108.8 v3.6 M522.12,108.8 v1.6 M529.48,108.8 v1.6 M536.84,108.8 v1.6 M544.20,108.8 v3.6" stroke="#222" stroke-width="0.9" fill="none"/>
<path d="M397,108.80 h-4.0 M397,105.95 h-2.0 M397,103.10 h-2.0 M397,100.25 h-2.0 M397,97.40 h-2.0 M397,94.55 h-2.0 M397,91.70 h-2.0 M397,88.85 h-2.0 M397,86.00 h-2.0 M397,83.15 h-2.0 M397,80.30 h-4.0 M397,77.45 h-2.0 M397,74.60 h-2.0 M397,71.75 h-2.0 M397,68.90 h-2.0 M397,66.05 h-2.0 M397,63.20 h-2.0 M397,60.35 h-2.0 M397,57.50 h-2.0 M397,54.65 h-2.0 M397,51.80 h-4.0 M397,48.95 h-2.0 M397,46.10 h-2.0 M397,43.25 h-2.0 M397,40.40 h-2.0 M397,37.55 h-2.0 M397,34.70 h-2.0 M397,31.85 h-2.0 M397,29.00 h-2.0" stroke="#222" stroke-width="0.8" fill="none"/>
<text x="399.0" y="122.3" class="tk">0</text>
<text x="424.5" y="122.3" class="tk">200</text>
<text x="454.0" y="122.3" class="tk">400</text>
<text x="483.4" y="122.3" class="tk">600</text>
<text x="512.9" y="122.3" class="tk">800</text>
<text x="542.3" y="122.3" class="tk">1K</text>
</g>
<g>
<path d="M87.5,209.20 L87.5,209.17 L88.2,209.14 L89.0,209.09 L89.7,209.00 L90.5,208.87 L91.2,208.67 L92.0,208.39 L92.7,208.02 L93.5,207.53 L94.2,206.96 L95.0,206.31 L95.7,205.63 L96.5,204.97 L97.2,204.41 L98.0,204.01 L98.7,203.82 L99.5,203.81 L100.2,203.85 L101.0,203.93 L101.7,204.04 L102.5,204.19 L103.2,204.36 L104.0,204.57 L104.7,204.79 L105.5,205.03 L106.2,205.29 L107.0,205.56 L107.7,205.83 L108.5,206.10 L109.2,206.37 L110.0,206.63 L110.7,206.89 L111.5,207.14 L112.2,207.37 L113.0,207.58 L113.7,207.79 L114.5,207.97 L115.2,208.14 L116.0,208.29 L116.7,208.42 L117.5,208.54 L118.2,208.65 L119.0,208.74 L119.7,208.82 L120.5,208.89 L121.2,208.94 L122.0,208.99 L122.7,209.03 L123.5,209.07 L124.2,209.09 L125.0,209.12 L125.7,209.13 L126.5,209.15 L127.2,209.16 L127.2,209.20 Z" fill="#f3e08c" style="mix-blend-mode:multiply"/>
<path d="M86.9,209.20 L86.9,208.76 L87.7,208.10 L88.4,206.70 L89.2,203.98 L89.9,199.25 L90.7,191.87 L91.4,181.61 L92.2,169.06 L92.9,155.83 L93.7,144.34 L94.4,137.16 L95.2,135.99 L95.9,140.24 L96.7,148.74 L97.4,159.86 L98.2,171.73 L98.9,182.71 L99.7,191.77 L100.4,198.52 L101.2,203.11 L101.9,205.97 L102.7,207.61 L103.4,208.47 L103.4,209.20 Z" fill="#9be57c" style="mix-blend-mode:multiply"/>
<path d="M112.4,209.20 L112.4,209.15 L113.2,209.10 L113.9,209.01 L114.7,208.85 L115.4,208.60 L116.2,208.21 L116.9,207.66 L117.7,206.93 L118.4,206.01 L119.2,204.94 L119.9,203.80 L120.7,202.70 L121.4,201.78 L122.2,201.15 L122.9,200.90 L123.7,201.07 L124.4,201.61 L125.2,202.45 L125.9,203.49 L126.7,204.59 L127.4,205.66 L128.2,206.61 L128.9,207.40 L129.7,208.00 L130.4,208.44 L131.2,208.74 L131.9,208.94 L132.7,209.06 L133.4,209.13 L133.4,209.20 Z" fill="#84f7f7" style="mix-blend-mode:multiply"/>
<path d="M66.5,209.20 L67.2,209.20 L68.0,209.20 L68.8,209.20 L69.5,209.20 L70.2,209.20 L71.0,209.20 L71.8,209.20 L72.5,209.20 L73.2,209.20 L74.0,209.20 L74.8,209.20 L75.5,209.20 L76.2,209.20 L77.0,209.20 L77.8,209.20 L78.5,209.20 L79.2,209.20 L80.0,209.20 L80.8,209.20 L81.5,209.20 L82.2,209.20 L83.0,209.20 L83.8,209.19 L84.5,209.18 L85.2,209.13 L86.0,209.02 L86.8,208.73 L87.5,208.08 L88.2,206.75 L89.0,204.24 L89.8,199.95 L90.5,193.33 L91.2,184.11 L92.0,172.67 L92.8,160.21 L93.5,148.67 L94.2,140.27 L95.0,136.79 L95.8,138.25 L96.5,143.62 L97.2,151.94 L98.0,161.85 L98.8,171.99 L99.5,181.24 L100.2,188.82 L101.0,194.53 L101.8,198.52 L102.5,201.14 L103.2,202.79 L104.0,203.80 L104.8,204.44 L105.5,204.89 L106.2,205.23 L107.0,205.54 L107.8,205.82 L108.5,206.08 L109.2,206.32 L110.0,206.52 L110.8,206.66 L111.5,206.72 L112.2,206.67 L113.0,206.51 L113.8,206.26 L114.5,205.96 L115.2,205.65 L116.0,205.36 L116.8,205.08 L117.5,204.77 L118.2,204.38 L119.0,203.86 L119.8,203.23 L120.5,202.54 L121.2,201.89 L122.0,201.40 L122.8,201.19 L123.5,201.30 L124.2,201.72 L125.0,202.39 L125.8,203.26 L126.5,204.22 L127.2,205.19 L128.0,206.08 L128.8,206.85 L129.5,207.46 L130.2,207.92 L131.0,208.23 L131.8,208.42 L132.5,208.51 L133.2,208.54 L134.0,208.52 L134.8,208.46 L135.5,208.39 L136.2,208.31 L137.0,208.23 L137.8,208.16 L138.5,208.10 L139.2,208.05 L140.0,208.02 L140.8,208.00 L141.5,208.00 L142.2,208.03 L143.0,208.06 L143.8,208.12 L144.5,208.19 L145.2,208.27 L146.0,208.35 L146.8,208.44 L147.5,208.53 L148.2,208.62 L149.0,208.71 L149.8,208.79 L150.5,208.86 L151.2,208.92 L152.0,208.98 L152.8,209.02 L153.5,209.06 L154.2,209.10 L155.0,209.12 L155.8,209.14 L156.5,209.16 L157.2,209.17 L158.0,209.18 L158.8,209.18 L159.5,209.19 L160.2,209.19 L161.0,209.20 L161.8,209.20 L162.5,209.20 L163.2,209.20 L164.0,209.20 L164.8,209.20 L165.5,209.20 L166.2,209.20 L167.0,209.20 L167.8,209.20 L168.5,209.20 L169.2,209.20 L170.0,209.20 L170.8,209.20 L171.5,209.20 L172.2,209.20 L173.0,209.20 L173.8,209.20 L174.5,209.20 L175.2,209.20 L176.0,209.20 L176.8,209.20 L177.5,209.20 L178.2,209.20 L179.0,209.20 L179.8,209.20 L180.5,209.20 L181.2,209.20 L182.0,209.20 L182.8,209.20 L183.5,209.20 L184.2,209.20 L185.0,209.20 L185.8,209.20 L186.5,209.20 L187.2,209.20 L188.0,209.20 L188.8,209.20 L189.5,209.20 L190.2,209.20 L191.0,209.20 L191.8,209.20 L192.5,209.20 L193.2,209.20 L194.0,209.20 L194.8,209.20 L195.5,209.20 L196.2,209.20 L197.0,209.20 L197.8,209.20 L198.5,209.20 L199.2,209.20 L200.0,209.20 L200.8,209.20 L201.5,209.20 L202.2,209.20 L203.0,209.20 L203.8,209.20 L204.5,209.20 L205.2,209.20 L206.0,209.20 L206.8,209.20 L207.5,209.20 L208.2,209.20 L209.0,209.20 L209.8,209.20 L210.5,209.20 L211.2,209.20 L212.0,209.20 L212.8,209.20 L213.5,209.20 L214.2,209.20 L215.0,209.20 L215.8,209.20 L216.5,209.20" fill="none" stroke="#1c1c1c" stroke-width="1.15" stroke-linejoin="round"/>
<path d="M66.5,209.20 L67.2,209.20 L68.0,209.20 L68.8,209.20 L69.5,209.20 L70.2,209.20 L71.0,209.20 L71.8,209.20 L72.5,209.20 L73.2,209.20 L74.0,209.20 L74.8,209.20 L75.5,209.20 L76.2,209.20 L77.0,209.20 L77.8,209.20 L78.5,209.20 L79.2,209.20 L80.0,209.20 L80.8,209.20 L81.5,209.20 L82.2,209.20 L83.0,209.20 L83.8,209.20 L84.5,209.19 L85.2,209.15 L86.0,209.06 L86.8,208.82 L87.5,208.25 L88.2,207.00 L89.0,204.55 L89.8,200.19 L90.5,193.25 L91.2,183.35 L92.0,170.88 L92.8,157.22 L93.5,144.69 L94.2,135.88 L95.0,132.83 L95.8,135.42 L96.5,142.53 L97.2,152.72 L98.0,164.18 L98.8,175.25 L99.5,184.74 L100.2,192.01 L101.0,197.08 L101.8,200.36 L102.5,202.35 L103.2,203.51 L104.0,204.20 L104.8,204.65 L105.5,204.98 L106.2,205.28 L107.0,205.56 L107.8,205.83 L108.5,206.11 L109.2,206.38 L110.0,206.64 L110.8,206.89 L111.5,207.12 L112.2,207.33 L113.0,207.51 L113.8,207.63 L114.5,207.67 L115.2,207.62 L116.0,207.42 L116.8,207.05 L117.5,206.48 L118.2,205.71 L119.0,204.76 L119.8,203.71 L120.5,202.66 L121.2,201.73 L122.0,201.07 L122.8,200.76 L123.5,200.86 L124.2,201.34 L125.0,202.14 L125.8,203.15 L126.5,204.26 L127.2,205.36 L128.0,206.36 L128.8,207.19 L129.5,207.85 L130.2,208.33 L131.0,208.67 L131.8,208.89 L132.5,209.03 L133.2,209.11 L134.0,209.15 L134.8,209.18 L135.5,209.19 L136.2,209.19 L137.0,209.20 L137.8,209.20 L138.5,209.20 L139.2,209.20 L140.0,209.20 L140.8,209.20 L141.5,209.20 L142.2,209.20 L143.0,209.20 L143.8,209.20 L144.5,209.20 L145.2,209.20 L146.0,209.20 L146.8,209.20 L147.5,209.20 L148.2,209.20 L149.0,209.20 L149.8,209.20 L150.5,209.20 L151.2,209.20 L152.0,209.20 L152.8,209.20 L153.5,209.20 L154.2,209.20 L155.0,209.20 L155.8,209.20 L156.5,209.20 L157.2,209.20 L158.0,209.20 L158.8,209.20 L159.5,209.20 L160.2,209.20 L161.0,209.20 L161.8,209.20 L162.5,209.20 L163.2,209.20 L164.0,209.20 L164.8,209.20 L165.5,209.20 L166.2,209.20 L167.0,209.20 L167.8,209.20 L168.5,209.20 L169.2,209.20 L170.0,209.20 L170.8,209.20 L171.5,209.20 L172.2,209.20 L173.0,209.20 L173.8,209.20 L174.5,209.20 L175.2,209.20 L176.0,209.20 L176.8,209.20 L177.5,209.20 L178.2,209.20 L179.0,209.20 L179.8,209.20 L180.5,209.20 L181.2,209.20 L182.0,209.20 L182.8,209.20 L183.5,209.20 L184.2,209.20 L185.0,209.20 L185.8,209.20 L186.5,209.20 L187.2,209.20 L188.0,209.20 L188.8,209.20 L189.5,209.20 L190.2,209.20 L191.0,209.20 L191.8,209.20 L192.5,209.20 L193.2,209.20 L194.0,209.20 L194.8,209.20 L195.5,209.20 L196.2,209.20 L197.0,209.20 L197.8,209.20 L198.5,209.20 L199.2,209.20 L200.0,209.20 L200.8,209.20 L201.5,209.20 L202.2,209.20 L203.0,209.20 L203.8,209.20 L204.5,209.20 L205.2,209.20 L206.0,209.20 L206.8,209.20 L207.5,209.20 L208.2,209.20 L209.0,209.20 L209.8,209.20 L210.5,209.20 L211.2,209.20 L212.0,209.20 L212.8,209.20 L213.5,209.20 L214.2,209.20 L215.0,209.20 L215.8,209.20 L216.5,209.20" fill="none" stroke="#f014dc" stroke-width="1.3" stroke-linejoin="round" opacity="0.88"/>
<path d="M66.5,129.2 H217.5" stroke="#666" stroke-width="1" fill="none"/>
<path d="M217.5,129.2 V209.2" stroke="#555" stroke-width="1.4" fill="none"/>
<path d="M66.5,129.2 V209.2" stroke="#333" stroke-width="1.0" fill="none"/>
<path d="M66.0,209.30 H218.2" stroke="#30103a" stroke-width="1.5" fill="none" opacity="0.9"/>
<path d="M66.50,209.2 v3.6 M73.82,209.2 v1.6 M81.14,209.2 v1.6 M88.46,209.2 v1.6 M95.78,209.2 v3.6 M103.10,209.2 v1.6 M110.42,209.2 v1.6 M117.74,209.2 v1.6 M125.06,209.2 v3.6 M132.38,209.2 v1.6 M139.70,209.2 v1.6 M147.02,209.2 v1.6 M154.34,209.2 v3.6 M161.66,209.2 v1.6 M168.98,209.2 v1.6 M176.30,209.2 v1.6 M183.62,209.2 v3.6 M190.94,209.2 v1.6 M198.26,209.2 v1.6 M205.58,209.2 v1.6 M212.90,209.2 v3.6" stroke="#222" stroke-width="0.9" fill="none"/>
<path d="M66.5,209.20 h-4.0 M66.5,205.82 h-2.0 M66.5,202.44 h-2.0 M66.5,199.06 h-2.0 M66.5,195.68 h-2.0 M66.5,192.30 h-4.0 M66.5,188.92 h-2.0 M66.5,185.54 h-2.0 M66.5,182.16 h-2.0 M66.5,178.78 h-2.0 M66.5,175.40 h-4.0 M66.5,172.02 h-2.0 M66.5,168.64 h-2.0 M66.5,165.26 h-2.0 M66.5,161.88 h-2.0 M66.5,158.50 h-4.0 M66.5,155.12 h-2.0 M66.5,151.74 h-2.0 M66.5,148.36 h-2.0 M66.5,144.98 h-2.0 M66.5,141.60 h-4.0 M66.5,138.22 h-2.0 M66.5,134.84 h-2.0 M66.5,131.46 h-2.0" stroke="#222" stroke-width="0.8" fill="none"/>
<text x="68.5" y="222.0" class="tk">0</text>
<text x="93.9" y="222.0" class="tk">200</text>
<text x="123.2" y="222.0" class="tk">400</text>
<text x="152.4" y="222.0" class="tk">600</text>
<text x="181.7" y="222.0" class="tk">800</text>
<text x="211.0" y="222.0" class="tk">1K</text>
</g>
<g>
<path d="M250.2,209.20 L250.2,209.15 L250.9,209.13 L251.7,209.10 L252.4,209.06 L253.2,209.01 L253.9,208.94 L254.7,208.85 L255.4,208.73 L256.2,208.59 L256.9,208.41 L257.7,208.19 L258.4,207.93 L259.2,207.62 L259.9,207.27 L260.7,206.86 L261.4,206.41 L262.2,205.92 L262.9,205.39 L263.7,204.84 L264.4,204.26 L265.2,203.69 L265.9,203.14 L266.7,202.61 L267.4,202.14 L268.2,201.73 L268.9,201.40 L269.7,201.16 L270.4,201.03 L271.2,201.00 L271.9,201.06 L272.7,201.18 L273.4,201.38 L274.2,201.63 L274.9,201.94 L275.7,202.30 L276.4,202.70 L277.2,203.13 L277.9,203.58 L278.7,204.04 L279.4,204.51 L280.2,204.97 L280.9,205.42 L281.7,205.85 L282.4,206.26 L283.2,206.64 L283.9,206.99 L284.7,207.31 L285.4,207.60 L286.2,207.85 L286.9,208.08 L287.7,208.27 L288.4,208.44 L289.2,208.58 L289.9,208.70 L290.7,208.80 L291.4,208.89 L292.2,208.96 L292.9,209.01 L293.7,209.05 L294.4,209.09 L295.2,209.12 L295.9,209.14 L295.9,209.20 Z" fill="#f3e08c" style="mix-blend-mode:multiply"/>
<path d="M253.2,209.20 L253.2,208.95 L254.0,208.65 L254.7,208.09 L255.5,207.09 L256.2,205.42 L257.0,202.85 L257.7,199.18 L258.5,194.35 L259.2,188.51 L260.0,182.13 L260.7,175.94 L261.5,170.79 L262.2,167.54 L263.0,166.74 L263.7,168.25 L264.5,171.69 L265.2,176.58 L266.0,182.25 L266.7,188.06 L267.5,193.45 L268.2,198.06 L269.0,201.71 L269.7,204.42 L270.5,206.31 L271.2,207.53 L272.0,208.29 L272.7,208.73 L272.7,209.20 Z" fill="#9be57c" style="mix-blend-mode:multiply"/>
<path d="M272.3,209.20 L272.3,208.72 L273.1,208.46 L273.8,208.06 L274.6,207.50 L275.3,206.71 L276.1,205.62 L276.8,204.15 L277.6,202.23 L278.3,199.77 L279.1,196.69 L279.8,192.93 L280.6,188.47 L281.3,183.30 L282.1,177.49 L282.8,171.14 L283.6,164.42 L284.3,157.57 L285.1,150.85 L285.8,144.55 L286.6,139.00 L287.3,134.49 L288.1,131.26 L288.8,129.50 L289.6,129.32 L290.3,130.67 L291.1,133.48 L291.8,137.58 L292.6,142.75 L293.3,148.73 L294.1,155.22 L294.8,161.94 L295.6,168.61 L296.3,175.00 L297.1,180.94 L297.8,186.29 L298.6,190.99 L299.3,194.99 L300.1,198.33 L300.8,201.05 L301.6,203.20 L302.3,204.87 L303.1,206.13 L303.8,207.07 L304.6,207.75 L305.3,208.23 L306.1,208.56 L306.1,209.20 Z" fill="#84f7f7" style="mix-blend-mode:multiply"/>
<path d="M231.5,209.20 L232.2,209.20 L233.0,209.20 L233.8,209.20 L234.5,209.20 L235.2,209.20 L236.0,209.20 L236.8,209.20 L237.5,209.20 L238.2,209.20 L239.0,209.19 L239.8,209.18 L240.5,209.16 L241.2,209.13 L242.0,209.07 L242.8,208.98 L243.5,208.84 L244.2,208.65 L245.0,208.37 L245.8,208.02 L246.5,207.59 L247.2,207.10 L248.0,206.57 L248.8,206.04 L249.5,205.57 L250.2,205.19 L251.0,204.96 L251.8,204.89 L252.5,204.93 L253.2,205.04 L254.0,205.15 L254.8,205.11 L255.5,204.74 L256.2,203.81 L257.0,202.05 L257.8,199.21 L258.5,195.17 L259.2,190.01 L260.0,184.11 L260.8,178.11 L261.5,172.89 L262.2,169.28 L263.0,167.90 L263.8,168.59 L264.5,170.98 L265.2,174.68 L266.0,179.12 L266.8,183.75 L267.5,188.08 L268.2,191.80 L269.0,194.76 L269.8,196.96 L270.5,198.51 L271.2,199.57 L272.0,200.24 L272.8,200.66 L273.5,200.89 L274.2,200.99 L275.0,200.96 L275.8,200.77 L276.5,200.37 L277.2,199.69 L278.0,198.65 L278.8,197.17 L279.5,195.15 L280.2,192.51 L281.0,189.21 L281.8,185.22 L282.5,180.55 L283.2,175.29 L284.0,169.55 L284.8,163.52 L285.5,157.45 L286.2,151.61 L287.0,146.31 L287.8,141.83 L288.5,138.44 L289.2,136.36 L290.0,135.72 L290.8,136.50 L291.5,138.56 L292.2,141.82 L293.0,146.11 L293.8,151.20 L294.5,156.84 L295.2,162.79 L296.0,168.77 L296.8,174.53 L297.5,179.82 L298.2,184.43 L299.0,188.16 L299.8,190.93 L300.5,192.75 L301.2,193.82 L302.0,194.45 L302.8,195.03 L303.5,195.90 L304.2,196.92 L305.0,197.85 L305.8,198.69 L306.5,199.47 L307.2,200.17 L308.0,200.83 L308.8,201.47 L309.5,202.13 L310.2,202.84 L311.0,203.64 L311.8,204.55 L312.5,205.52 L313.2,206.45 L314.0,207.28 L314.8,207.94 L315.5,208.42 L316.2,208.75 L317.0,208.95 L317.8,209.07 L318.5,209.14 L319.2,209.17 L320.0,209.18 L320.8,209.19 L321.5,209.20 L322.2,209.20 L323.0,209.20 L323.8,209.20 L324.5,209.20 L325.2,209.20 L326.0,209.20 L326.8,209.20 L327.5,209.20 L328.2,209.20 L329.0,209.20 L329.8,209.20 L330.5,209.20 L331.2,209.20 L332.0,209.20 L332.8,209.20 L333.5,209.20 L334.2,209.20 L335.0,209.20 L335.8,209.20 L336.5,209.20 L337.2,209.20 L338.0,209.20 L338.8,209.20 L339.5,209.20 L340.2,209.20 L341.0,209.20 L341.8,209.20 L342.5,209.20 L343.2,209.20 L344.0,209.20 L344.8,209.20 L345.5,209.20 L346.2,209.20 L347.0,209.20 L347.8,209.20 L348.5,209.20 L349.2,209.20 L350.0,209.20 L350.8,209.20 L351.5,209.20 L352.2,209.20 L353.0,209.20 L353.8,209.20 L354.5,209.20 L355.2,209.20 L356.0,209.20 L356.8,209.20 L357.5,209.20 L358.2,209.20 L359.0,209.20 L359.8,209.20 L360.5,209.20 L361.2,209.20 L362.0,209.20 L362.8,209.20 L363.5,209.20 L364.2,209.20 L365.0,209.20 L365.8,209.20 L366.5,209.20 L367.2,209.20 L368.0,209.20 L368.8,209.20 L369.5,209.20 L370.2,209.20 L371.0,209.20 L371.8,209.20 L372.5,209.20 L373.2,209.20 L374.0,209.20 L374.8,209.20 L375.5,209.20 L376.2,209.20 L377.0,209.20 L377.8,209.20 L378.5,209.20 L379.2,209.20 L380.0,209.20 L380.8,209.20 L381.5,209.20 L382.2,209.20" fill="none" stroke="#1c1c1c" stroke-width="1.15" stroke-linejoin="round"/>
<path d="M231.5,209.20 L232.2,209.20 L233.0,209.20 L233.8,209.20 L234.5,209.20 L235.2,209.20 L236.0,209.20 L236.8,209.20 L237.5,209.20 L238.2,209.20 L239.0,209.20 L239.8,209.20 L240.5,209.20 L241.2,209.20 L242.0,209.20 L242.8,209.20 L243.5,209.20 L244.2,209.20 L245.0,209.20 L245.8,209.20 L246.5,209.19 L247.2,209.19 L248.0,209.18 L248.8,209.18 L249.5,209.16 L250.2,209.14 L251.0,209.11 L251.8,209.05 L252.5,208.94 L253.2,208.74 L254.0,208.36 L254.8,207.68 L255.5,206.52 L256.2,204.66 L257.0,201.84 L257.8,197.87 L258.5,192.69 L259.2,186.50 L260.0,179.75 L260.8,173.18 L261.5,167.69 L262.2,164.09 L263.0,162.93 L263.8,164.02 L264.5,167.01 L265.2,171.39 L266.0,176.54 L266.8,181.81 L267.5,186.68 L268.2,190.80 L269.0,194.05 L269.8,196.44 L270.5,198.08 L271.2,199.16 L272.0,199.80 L272.8,200.13 L273.5,200.23 L274.2,200.13 L275.0,199.82 L275.8,199.26 L276.5,198.39 L277.2,197.12 L278.0,195.37 L278.8,193.04 L279.5,190.06 L280.2,186.38 L281.0,181.97 L281.8,176.87 L282.5,171.16 L283.2,164.96 L284.0,158.49 L284.8,151.99 L285.5,145.75 L286.2,140.08 L287.0,135.28 L287.8,131.63 L288.5,129.36 L289.2,129.20 L290.0,129.38 L290.8,131.64 L291.5,135.26 L292.2,140.05 L293.0,145.75 L293.8,152.09 L294.5,158.77 L295.2,165.52 L296.0,172.09 L296.8,178.27 L297.5,183.91 L298.2,188.92 L299.0,193.24 L299.8,196.89 L300.5,199.88 L301.2,202.28 L302.0,204.16 L302.8,205.60 L303.5,206.68 L304.2,207.47 L305.0,208.03 L305.8,208.43 L306.5,208.70 L307.2,208.88 L308.0,209.00 L308.8,209.08 L309.5,209.13 L310.2,209.16 L311.0,209.18 L311.8,209.19 L312.5,209.19 L313.2,209.20 L314.0,209.20 L314.8,209.20 L315.5,209.20 L316.2,209.20 L317.0,209.20 L317.8,209.20 L318.5,209.20 L319.2,209.20 L320.0,209.20 L320.8,209.20 L321.5,209.20 L322.2,209.20 L323.0,209.20 L323.8,209.20 L324.5,209.20 L325.2,209.20 L326.0,209.20 L326.8,209.20 L327.5,209.20 L328.2,209.20 L329.0,209.20 L329.8,209.20 L330.5,209.20 L331.2,209.20 L332.0,209.20 L332.8,209.20 L333.5,209.20 L334.2,209.20 L335.0,209.20 L335.8,209.20 L336.5,209.20 L337.2,209.20 L338.0,209.20 L338.8,209.20 L339.5,209.20 L340.2,209.20 L341.0,209.20 L341.8,209.20 L342.5,209.20 L343.2,209.20 L344.0,209.20 L344.8,209.20 L345.5,209.20 L346.2,209.20 L347.0,209.20 L347.8,209.20 L348.5,209.20 L349.2,209.20 L350.0,209.20 L350.8,209.20 L351.5,209.20 L352.2,209.20 L353.0,209.20 L353.8,209.20 L354.5,209.20 L355.2,209.20 L356.0,209.20 L356.8,209.20 L357.5,209.20 L358.2,209.20 L359.0,209.20 L359.8,209.20 L360.5,209.20 L361.2,209.20 L362.0,209.20 L362.8,209.20 L363.5,209.20 L364.2,209.20 L365.0,209.20 L365.8,209.20 L366.5,209.20 L367.2,209.20 L368.0,209.20 L368.8,209.20 L369.5,209.20 L370.2,209.20 L371.0,209.20 L371.8,209.20 L372.5,209.20 L373.2,209.20 L374.0,209.20 L374.8,209.20 L375.5,209.20 L376.2,209.20 L377.0,209.20 L377.8,209.20 L378.5,209.20 L379.2,209.20 L380.0,209.20 L380.8,209.20 L381.5,209.20 L382.2,209.20" fill="none" stroke="#f014dc" stroke-width="1.3" stroke-linejoin="round" opacity="0.88"/>
<path d="M231.5,129.2 H383.5" stroke="#b0b0b0" stroke-width="1" fill="none"/>
<path d="M383.5,129.2 V209.2" stroke="#555" stroke-width="1.4" fill="none"/>
<path d="M231.5,129.2 V209.2" stroke="#333" stroke-width="1.0" fill="none"/>
<path d="M231.0,209.30 H384.2" stroke="#30103a" stroke-width="1.5" fill="none" opacity="0.9"/>
<path d="M231.50,209.2 v3.6 M238.87,209.2 v1.6 M246.24,209.2 v1.6 M253.61,209.2 v1.6 M260.98,209.2 v3.6 M268.35,209.2 v1.6 M275.72,209.2 v1.6 M283.09,209.2 v1.6 M290.46,209.2 v3.6 M297.83,209.2 v1.6 M305.20,209.2 v1.6 M312.57,209.2 v1.6 M319.94,209.2 v3.6 M327.31,209.2 v1.6 M334.68,209.2 v1.6 M342.05,209.2 v1.6 M349.42,209.2 v3.6 M356.79,209.2 v1.6 M364.16,209.2 v1.6 M371.53,209.2 v1.6 M378.90,209.2 v3.6" stroke="#222" stroke-width="0.9" fill="none"/>
<path d="M231.5,209.20 h-4.0 M231.5,204.20 h-2.0 M231.5,199.20 h-2.0 M231.5,194.20 h-2.0 M231.5,189.20 h-2.0 M231.5,184.20 h-4.0 M231.5,179.20 h-2.0 M231.5,174.20 h-2.0 M231.5,169.20 h-2.0 M231.5,164.20 h-2.0 M231.5,159.20 h-4.0 M231.5,154.20 h-2.0 M231.5,149.20 h-2.0 M231.5,144.20 h-2.0 M231.5,139.20 h-2.0 M231.5,134.20 h-4.0 M231.5,129.20 h-2.0" stroke="#222" stroke-width="0.8" fill="none"/>
<text x="233.5" y="222.0" class="tk">0</text>
<text x="259.1" y="222.0" class="tk">200</text>
<text x="288.6" y="222.0" class="tk">400</text>
<text x="318.0" y="222.0" class="tk">600</text>
<text x="347.5" y="222.0" class="tk">800</text>
<text x="377.0" y="222.0" class="tk">1K</text>
</g>
<g>
<path d="M409.0,206.80 L409.0,206.78 L409.8,206.77 L410.5,206.76 L411.2,206.75 L412.0,206.74 L412.8,206.73 L413.5,206.71 L414.2,206.69 L415.0,206.67 L415.8,206.64 L416.5,206.61 L417.2,206.57 L418.0,206.53 L418.8,206.48 L419.5,206.42 L420.2,206.36 L421.0,206.29 L421.8,206.20 L422.5,206.11 L423.2,206.01 L424.0,205.90 L424.8,205.79 L425.5,205.66 L426.2,205.52 L427.0,205.37 L427.8,205.22 L428.5,205.06 L429.2,204.89 L430.0,204.72 L430.8,204.55 L431.5,204.38 L432.2,204.21 L433.0,204.04 L433.8,203.88 L434.5,203.72 L435.2,203.58 L436.0,203.45 L436.8,203.33 L437.5,203.23 L438.2,203.14 L439.0,203.08 L439.8,203.03 L440.5,203.00 L441.2,203.00 L442.0,203.02 L442.8,203.05 L443.5,203.10 L444.2,203.16 L445.0,203.24 L445.8,203.34 L446.5,203.45 L447.2,203.57 L448.0,203.70 L448.8,203.84 L449.5,203.98 L450.2,204.13 L451.0,204.29 L451.8,204.44 L452.5,204.60 L453.2,204.76 L454.0,204.91 L454.8,205.06 L455.5,205.21 L456.2,205.35 L457.0,205.48 L457.8,205.61 L458.5,205.73 L459.2,205.84 L460.0,205.95 L460.8,206.04 L461.5,206.13 L462.2,206.21 L463.0,206.29 L463.8,206.35 L464.5,206.41 L465.2,206.47 L466.0,206.51 L466.8,206.55 L467.5,206.59 L468.2,206.62 L469.0,206.65 L469.8,206.68 L470.5,206.70 L471.2,206.71 L472.0,206.73 L472.8,206.74 L473.5,206.75 L474.2,206.76 L475.0,206.77 L475.8,206.77 L475.8,206.80 Z" fill="#f3e08c" style="mix-blend-mode:multiply"/>
<path d="M416.9,206.80 L416.9,206.75 L417.6,206.71 L418.4,206.64 L419.1,206.52 L419.9,206.34 L420.6,206.06 L421.4,205.66 L422.1,205.13 L422.9,204.45 L423.6,203.64 L424.4,202.73 L425.1,201.77 L425.9,200.85 L426.6,200.07 L427.4,199.50 L428.1,199.22 L428.9,199.27 L429.6,199.63 L430.4,200.27 L431.1,201.10 L431.9,202.04 L432.6,202.99 L433.4,203.88 L434.1,204.66 L434.9,205.30 L435.6,205.79 L436.4,206.15 L437.1,206.40 L437.9,206.56 L438.6,206.67 L439.4,206.73 L439.4,206.80 Z" fill="#9be57c" style="mix-blend-mode:multiply"/>
<path d="M439.3,206.80 L439.3,206.35 L440.0,206.16 L440.8,205.89 L441.5,205.54 L442.3,205.06 L443.0,204.44 L443.8,203.64 L444.5,202.62 L445.3,201.34 L446.0,199.76 L446.8,197.85 L447.5,195.55 L448.3,192.85 L449.0,189.73 L449.8,186.17 L450.5,182.19 L451.3,177.82 L452.0,173.11 L452.8,168.13 L453.5,163.00 L454.3,157.81 L455.0,152.72 L455.8,147.86 L456.5,143.39 L457.3,139.46 L458.0,136.20 L458.8,133.73 L459.5,132.15 L460.3,131.51 L461.0,131.85 L461.8,133.18 L462.5,135.44 L463.3,138.54 L464.0,142.37 L464.8,146.79 L465.5,151.65 L466.3,156.79 L467.0,162.04 L467.8,167.28 L468.5,172.36 L469.3,177.18 L470.0,181.67 L470.8,185.76 L471.5,189.42 L472.3,192.63 L473.0,195.40 L473.8,197.75 L474.5,199.71 L475.3,201.32 L476.0,202.62 L476.8,203.65 L477.5,204.46 L478.3,205.09 L479.0,205.56 L479.8,205.92 L480.5,206.18 L480.5,206.80 Z" fill="#84f7f7" style="mix-blend-mode:multiply"/>
<path d="M397.5,206.80 L398.2,206.80 L399.0,206.80 L399.8,206.80 L400.5,206.80 L401.2,206.80 L402.0,206.79 L402.8,206.79 L403.5,206.78 L404.2,206.76 L405.0,206.73 L405.8,206.69 L406.5,206.61 L407.2,206.50 L408.0,206.35 L408.8,206.13 L409.5,205.85 L410.2,205.49 L411.0,205.07 L411.8,204.61 L412.5,204.12 L413.2,203.64 L414.0,203.22 L414.8,202.89 L415.5,202.68 L416.2,202.62 L417.0,202.60 L417.8,202.60 L418.5,202.61 L419.2,202.62 L420.0,202.60 L420.8,202.53 L421.5,202.39 L422.2,202.15 L423.0,201.79 L423.8,201.32 L424.5,200.75 L425.2,200.14 L426.0,199.53 L426.8,199.00 L427.5,198.63 L428.2,198.48 L429.0,198.56 L429.8,198.83 L430.5,199.28 L431.2,199.84 L432.0,200.45 L432.8,201.04 L433.5,201.58 L434.2,202.02 L435.0,202.36 L435.8,202.59 L436.5,202.72 L437.2,202.78 L438.0,202.77 L438.8,202.71 L439.5,202.61 L440.2,202.46 L441.0,202.26 L441.8,201.99 L442.5,201.63 L443.2,201.15 L444.0,200.52 L444.8,199.71 L445.5,198.68 L446.2,197.37 L447.0,195.76 L447.8,193.80 L448.5,191.45 L449.2,188.69 L450.0,185.52 L450.8,181.93 L451.5,177.96 L452.2,173.66 L453.0,169.09 L453.8,164.35 L454.5,159.57 L455.2,154.88 L456.0,150.43 L456.8,146.45 L457.5,143.38 L458.2,142.10 L459.0,142.64 L459.8,142.76 L460.5,140.88 L461.2,139.04 L462.0,139.32 L462.8,141.49 L463.5,144.76 L464.2,148.73 L465.0,153.21 L465.8,158.02 L466.5,163.00 L467.2,167.97 L468.0,172.73 L468.8,177.09 L469.5,180.81 L470.2,183.72 L471.0,185.69 L471.8,186.78 L472.5,187.27 L473.2,187.59 L474.0,188.25 L474.8,189.61 L475.5,191.35 L476.2,193.33 L477.0,195.46 L477.8,197.62 L478.5,199.66 L479.2,201.48 L480.0,203.00 L480.8,204.20 L481.5,205.10 L482.2,205.73 L483.0,206.16 L483.8,206.43 L484.5,206.59 L485.2,206.69 L486.0,206.74 L486.8,206.77 L487.5,206.78 L488.2,206.79 L489.0,206.80 L489.8,206.80 L490.5,206.80 L491.2,206.80 L492.0,206.80 L492.8,206.80 L493.5,206.80 L494.2,206.80 L495.0,206.80 L495.8,206.80 L496.5,206.80 L497.2,206.80 L498.0,206.80 L498.8,206.80 L499.5,206.80 L500.2,206.80 L501.0,206.80 L501.8,206.80 L502.5,206.80 L503.2,206.80 L504.0,206.80 L504.8,206.80 L505.5,206.80 L506.2,206.80 L507.0,206.80 L507.8,206.80 L508.5,206.80 L509.2,206.80 L510.0,206.80 L510.8,206.80 L511.5,206.80 L512.2,206.80 L513.0,206.80 L513.8,206.80 L514.5,206.80 L515.2,206.80 L516.0,206.80 L516.8,206.80 L517.5,206.80 L518.2,206.80 L519.0,206.80 L519.8,206.80 L520.5,206.80 L521.2,206.80 L522.0,206.80 L522.8,206.80 L523.5,206.80 L524.2,206.80 L525.0,206.80 L525.8,206.80 L526.5,206.80 L527.2,206.80 L528.0,206.80 L528.8,206.80 L529.5,206.80 L530.2,206.80 L531.0,206.80 L531.8,206.80 L532.5,206.80 L533.2,206.80 L534.0,206.80 L534.8,206.80 L535.5,206.80 L536.2,206.80 L537.0,206.80 L537.8,206.80 L538.5,206.80 L539.2,206.80 L540.0,206.80 L540.8,206.80 L541.5,206.80 L542.2,206.80 L543.0,206.80 L543.8,206.80 L544.5,206.80 L545.2,206.80 L546.0,206.80 L546.8,206.80 L547.5,206.80" fill="none" stroke="#1c1c1c" stroke-width="1.15" stroke-linejoin="round"/>
<path d="M397.5,206.80 L398.2,206.80 L399.0,206.80 L399.8,206.80 L400.5,206.80 L401.2,206.80 L402.0,206.80 L402.8,206.80 L403.5,206.80 L404.2,206.80 L405.0,206.79 L405.8,206.79 L406.5,206.79 L407.2,206.79 L408.0,206.78 L408.8,206.78 L409.5,206.77 L410.2,206.77 L411.0,206.76 L411.8,206.75 L412.5,206.73 L413.2,206.72 L414.0,206.70 L414.8,206.67 L415.5,206.64 L416.2,206.60 L417.0,206.54 L417.8,206.45 L418.5,206.32 L419.2,206.14 L420.0,205.88 L420.8,205.52 L421.5,205.02 L422.2,204.38 L423.0,203.58 L423.8,202.64 L424.5,201.60 L425.2,200.52 L426.0,199.48 L426.8,198.58 L427.5,197.91 L428.2,197.52 L429.0,197.45 L429.8,197.70 L430.5,198.20 L431.2,198.88 L432.0,199.65 L432.8,200.42 L433.5,201.13 L434.2,201.72 L435.0,202.16 L435.8,202.47 L436.5,202.65 L437.2,202.73 L438.0,202.71 L438.8,202.63 L439.5,202.48 L440.2,202.26 L441.0,201.98 L441.8,201.61 L442.5,201.13 L443.2,200.50 L444.0,199.70 L444.8,198.69 L445.5,197.42 L446.2,195.85 L447.0,193.94 L447.8,191.65 L448.5,188.97 L449.2,185.86 L450.0,182.32 L450.8,178.38 L451.5,174.06 L452.2,169.42 L453.0,164.54 L453.8,159.53 L454.5,154.51 L455.2,149.62 L456.0,145.00 L456.8,140.81 L457.5,137.20 L458.2,134.28 L459.0,132.18 L459.8,130.98 L460.5,130.72 L461.2,131.44 L462.0,133.13 L462.8,135.73 L463.5,139.13 L464.2,143.21 L465.0,147.83 L465.8,152.83 L466.5,158.06 L467.2,163.36 L468.0,168.60 L468.8,173.65 L469.5,178.41 L470.2,182.80 L471.0,186.79 L471.8,190.33 L472.5,193.42 L473.2,196.08 L474.0,198.32 L474.8,200.18 L475.5,201.70 L476.2,202.93 L477.0,203.89 L477.8,204.65 L478.5,205.23 L479.2,205.67 L480.0,205.99 L480.8,206.23 L481.5,206.41 L482.2,206.53 L483.0,206.62 L483.8,206.68 L484.5,206.72 L485.2,206.75 L486.0,206.77 L486.8,206.78 L487.5,206.79 L488.2,206.79 L489.0,206.80 L489.8,206.80 L490.5,206.80 L491.2,206.80 L492.0,206.80 L492.8,206.80 L493.5,206.80 L494.2,206.80 L495.0,206.80 L495.8,206.80 L496.5,206.80 L497.2,206.80 L498.0,206.80 L498.8,206.80 L499.5,206.80 L500.2,206.80 L501.0,206.80 L501.8,206.80 L502.5,206.80 L503.2,206.80 L504.0,206.80 L504.8,206.80 L505.5,206.80 L506.2,206.80 L507.0,206.80 L507.8,206.80 L508.5,206.80 L509.2,206.80 L510.0,206.80 L510.8,206.80 L511.5,206.80 L512.2,206.80 L513.0,206.80 L513.8,206.80 L514.5,206.80 L515.2,206.80 L516.0,206.80 L516.8,206.80 L517.5,206.80 L518.2,206.80 L519.0,206.80 L519.8,206.80 L520.5,206.80 L521.2,206.80 L522.0,206.80 L522.8,206.80 L523.5,206.80 L524.2,206.80 L525.0,206.80 L525.8,206.80 L526.5,206.80 L527.2,206.80 L528.0,206.80 L528.8,206.80 L529.5,206.80 L530.2,206.80 L531.0,206.80 L531.8,206.80 L532.5,206.80 L533.2,206.80 L534.0,206.80 L534.8,206.80 L535.5,206.80 L536.2,206.80 L537.0,206.80 L537.8,206.80 L538.5,206.80 L539.2,206.80 L540.0,206.80 L540.8,206.80 L541.5,206.80 L542.2,206.80 L543.0,206.80 L543.8,206.80 L544.5,206.80 L545.2,206.80 L546.0,206.80 L546.8,206.80 L547.5,206.80" fill="none" stroke="#f014dc" stroke-width="1.3" stroke-linejoin="round" opacity="0.88"/>
<path d="M397.5,126.7 H548.8" stroke="#b0b0b0" stroke-width="1" fill="none"/>
<path d="M548.8,126.7 V206.8" stroke="#555" stroke-width="1.4" fill="none"/>
<path d="M397.5,126.7 V206.8" stroke="#333" stroke-width="1.0" fill="none"/>
<path d="M397.0,206.90 H549.5" stroke="#30103a" stroke-width="1.5" fill="none" opacity="0.9"/>
<path d="M397.50,206.8 v3.6 M404.83,206.8 v1.6 M412.17,206.8 v1.6 M419.50,206.8 v1.6 M426.84,206.8 v3.6 M434.18,206.8 v1.6 M441.51,206.8 v1.6 M448.84,206.8 v1.6 M456.18,206.8 v3.6 M463.51,206.8 v1.6 M470.85,206.8 v1.6 M478.19,206.8 v1.6 M485.52,206.8 v3.6 M492.85,206.8 v1.6 M500.19,206.8 v1.6 M507.52,206.8 v1.6 M514.86,206.8 v3.6 M522.19,206.8 v1.6 M529.53,206.8 v1.6 M536.87,206.8 v1.6 M544.20,206.8 v3.6" stroke="#222" stroke-width="0.9" fill="none"/>
<path d="M397.5,206.80 h-4.0 M397.5,201.90 h-2.0 M397.5,197.00 h-2.0 M397.5,192.10 h-2.0 M397.5,187.20 h-2.0 M397.5,182.30 h-4.0 M397.5,177.40 h-2.0 M397.5,172.50 h-2.0 M397.5,167.60 h-2.0 M397.5,162.70 h-2.0 M397.5,157.80 h-4.0 M397.5,152.90 h-2.0 M397.5,148.00 h-2.0 M397.5,143.10 h-2.0 M397.5,138.20 h-2.0 M397.5,133.30 h-4.0 M397.5,128.40 h-2.0" stroke="#222" stroke-width="0.8" fill="none"/>
<text x="399.5" y="219.6" class="tk">0</text>
<text x="424.9" y="219.6" class="tk">200</text>
<text x="454.3" y="219.6" class="tk">400</text>
<text x="483.6" y="219.6" class="tk">600</text>
<text x="513.0" y="219.6" class="tk">800</text>
<text x="542.3" y="219.6" class="tk">1K</text>
</g>
<g>
<path d="M90.5,308.20 L90.5,308.17 L91.2,308.15 L92.0,308.12 L92.8,308.08 L93.5,308.02 L94.2,307.94 L95.0,307.83 L95.8,307.68 L96.5,307.50 L97.2,307.26 L98.0,306.97 L98.8,306.64 L99.5,306.25 L100.2,305.82 L101.0,305.36 L101.8,304.89 L102.5,304.42 L103.2,303.99 L104.0,303.61 L104.8,303.31 L105.5,303.10 L106.2,303.01 L107.0,303.01 L107.8,303.08 L108.5,303.21 L109.2,303.39 L110.0,303.61 L110.8,303.88 L111.5,304.17 L112.2,304.49 L113.0,304.82 L113.8,305.16 L114.5,305.49 L115.2,305.82 L116.0,306.13 L116.8,306.42 L117.5,306.69 L118.2,306.93 L119.0,307.14 L119.8,307.33 L120.5,307.50 L121.2,307.64 L122.0,307.75 L122.8,307.85 L123.5,307.93 L124.2,307.99 L125.0,308.04 L125.8,308.08 L126.5,308.11 L127.2,308.14 L128.0,308.15 L128.8,308.17 L128.8,308.20 Z" fill="#f3e08c" style="mix-blend-mode:multiply"/>
<path d="M87.7,308.20 L87.7,307.70 L88.5,307.10 L89.2,305.93 L90.0,303.80 L90.7,300.24 L91.5,294.73 L92.2,286.86 L93.0,276.60 L93.7,264.42 L94.5,251.47 L95.2,239.45 L96.0,230.27 L96.7,225.59 L97.5,226.09 L98.2,231.02 L99.0,239.53 L99.7,250.37 L100.5,262.10 L101.2,273.41 L102.0,283.35 L102.7,291.40 L103.5,297.45 L104.2,301.69 L105.0,304.47 L105.7,306.17 L106.5,307.16 L107.2,307.69 L107.2,308.20 Z" fill="#9be57c" style="mix-blend-mode:multiply"/>
<path d="M102.0,308.20 L102.0,308.15 L102.8,308.12 L103.5,308.07 L104.2,308.00 L105.0,307.91 L105.8,307.77 L106.5,307.59 L107.2,307.35 L108.0,307.04 L108.8,306.65 L109.5,306.17 L110.2,305.61 L111.0,304.97 L111.8,304.26 L112.5,303.50 L113.2,302.72 L114.0,301.96 L114.8,301.24 L115.5,300.61 L116.2,300.11 L117.0,299.77 L117.8,299.61 L118.5,299.63 L119.2,299.80 L120.0,300.10 L120.8,300.51 L121.5,301.03 L122.2,301.62 L123.0,302.27 L123.8,302.94 L124.5,303.61 L125.2,304.26 L126.0,304.88 L126.8,305.44 L127.5,305.95 L128.2,306.40 L129.0,306.78 L129.8,307.10 L130.5,307.36 L131.2,307.57 L132.0,307.73 L132.8,307.86 L133.5,307.96 L134.2,308.03 L135.0,308.08 L135.8,308.12 L136.5,308.15 L136.5,308.20 Z" fill="#84f7f7" style="mix-blend-mode:multiply"/>
<path d="M66.3,308.20 L67.0,308.20 L67.8,308.20 L68.5,308.20 L69.3,308.20 L70.0,308.20 L70.8,308.20 L71.5,308.20 L72.3,308.20 L73.0,308.20 L73.8,308.20 L74.5,308.20 L75.3,308.20 L76.0,308.20 L76.8,308.20 L77.5,308.20 L78.3,308.20 L79.0,308.20 L79.8,308.20 L80.5,308.20 L81.3,308.20 L82.0,308.20 L82.8,308.20 L83.5,308.20 L84.3,308.20 L85.0,308.19 L85.8,308.17 L86.5,308.12 L87.3,308.00 L88.0,307.73 L88.8,307.17 L89.5,306.08 L90.3,304.11 L91.0,300.81 L91.8,295.73 L92.5,288.51 L93.3,279.11 L94.0,267.99 L94.8,256.22 L95.5,245.32 L96.3,237.03 L97.0,232.81 L97.8,232.82 L98.5,235.17 L99.3,239.47 L100.0,245.32 L100.8,252.25 L101.5,259.71 L102.3,267.21 L103.0,274.32 L103.8,280.73 L104.5,286.25 L105.3,290.82 L106.0,294.45 L106.8,297.22 L107.5,299.23 L108.3,300.60 L109.0,301.47 L109.8,301.94 L110.5,302.12 L111.3,302.07 L112.0,301.85 L112.8,301.52 L113.5,301.12 L114.3,300.68 L115.0,300.25 L115.8,299.86 L116.5,299.54 L117.3,299.33 L118.0,299.26 L118.8,299.35 L119.5,299.56 L120.3,299.89 L121.0,300.32 L121.8,300.83 L122.5,301.42 L123.3,302.05 L124.0,302.72 L124.8,303.38 L125.5,304.04 L126.3,304.66 L127.0,305.24 L127.8,305.76 L128.6,306.22 L129.3,306.63 L130.1,306.97 L130.8,307.25 L131.6,307.48 L132.3,307.66 L133.1,307.81 L133.8,307.92 L134.6,308.00 L135.3,308.06 L136.1,308.10 L136.8,308.13 L137.6,308.16 L138.3,308.17 L139.1,308.18 L139.8,308.19 L140.6,308.19 L141.3,308.20 L142.1,308.20 L142.8,308.20 L143.6,308.20 L144.3,308.20 L145.1,308.20 L145.8,308.20 L146.6,308.20 L147.3,308.20 L148.1,308.20 L148.8,308.20 L149.6,308.20 L150.3,308.20 L151.1,308.20 L151.8,308.20 L152.6,308.20 L153.3,308.20 L154.1,308.20 L154.8,308.20 L155.6,308.20 L156.3,308.20 L157.1,308.20 L157.8,308.20 L158.6,308.20 L159.3,308.20 L160.1,308.20 L160.8,308.20 L161.6,308.20 L162.3,308.20 L163.1,308.20 L163.8,308.20 L164.6,308.20 L165.3,308.20 L166.1,308.20 L166.8,308.20 L167.6,308.20 L168.3,308.20 L169.1,308.20 L169.8,308.20 L170.6,308.20 L171.3,308.20 L172.1,308.20 L172.8,308.20 L173.6,308.20 L174.3,308.20 L175.1,308.20 L175.8,308.20 L176.6,308.20 L177.3,308.20 L178.1,308.20 L178.8,308.20 L179.6,308.20 L180.3,308.20 L181.1,308.20 L181.8,308.20 L182.6,308.20 L183.3,308.20 L184.1,308.20 L184.8,308.20 L185.6,308.20 L186.3,308.20 L187.1,308.20 L187.8,308.20 L188.6,308.20 L189.3,308.20 L190.1,308.20 L190.8,308.20 L191.6,308.20 L192.3,308.20 L193.1,308.20 L193.8,308.20 L194.6,308.20 L195.3,308.20 L196.1,308.20 L196.8,308.20 L197.6,308.20 L198.3,308.20 L199.1,308.20 L199.8,308.20 L200.6,308.20 L201.3,308.20 L202.1,308.20 L202.8,308.20 L203.6,308.20 L204.3,308.20 L205.1,308.20 L205.8,308.20 L206.6,308.20 L207.3,308.20 L208.1,308.20 L208.8,308.20 L209.6,308.20 L210.3,308.20 L211.1,308.20 L211.8,308.20 L212.6,308.20 L213.3,308.20 L214.1,308.20 L214.8,308.20 L215.6,308.20 L216.3,308.20" fill="none" stroke="#1c1c1c" stroke-width="1.15" stroke-linejoin="round"/>
<path d="M66.3,308.20 L67.0,308.20 L67.8,308.20 L68.5,308.20 L69.3,308.20 L70.0,308.20 L70.8,308.20 L71.5,308.20 L72.3,308.20 L73.0,308.20 L73.8,308.20 L74.5,308.20 L75.3,308.20 L76.0,308.20 L76.8,308.20 L77.5,308.20 L78.3,308.20 L79.0,308.20 L79.8,308.20 L80.5,308.20 L81.3,308.20 L82.0,308.20 L82.8,308.20 L83.5,308.20 L84.3,308.19 L85.0,308.18 L85.8,308.15 L86.5,308.07 L87.3,307.89 L88.0,307.48 L88.8,306.67 L89.5,305.12 L90.3,302.42 L91.0,298.04 L91.8,291.50 L92.5,282.52 L93.3,271.26 L94.0,258.49 L94.8,245.62 L95.5,234.48 L96.3,226.93 L97.0,225.50 L97.8,226.61 L98.5,232.91 L99.3,242.24 L100.0,253.22 L100.8,264.45 L101.5,274.77 L102.3,283.43 L103.0,290.11 L103.8,294.87 L104.5,298.02 L105.3,299.93 L106.0,301.01 L106.8,301.54 L107.5,301.73 L108.3,301.70 L109.0,301.53 L109.8,301.28 L110.5,300.96 L111.3,300.58 L112.0,300.16 L112.8,299.72 L113.5,299.28 L114.3,298.86 L115.0,298.51 L115.8,298.24 L116.5,298.10 L117.3,298.10 L118.0,298.27 L118.8,298.57 L119.5,298.99 L120.3,299.51 L121.0,300.11 L121.8,300.78 L122.5,301.50 L123.3,302.24 L124.0,302.98 L124.8,303.70 L125.5,304.39 L126.3,305.02 L127.0,305.58 L127.8,306.09 L128.6,306.52 L129.3,306.89 L130.1,307.19 L130.8,307.43 L131.6,307.63 L132.3,307.78 L133.1,307.90 L133.8,307.99 L134.6,308.05 L135.3,308.10 L136.1,308.13 L136.8,308.15 L137.6,308.17 L138.3,308.18 L139.1,308.19 L139.8,308.19 L140.6,308.20 L141.3,308.20 L142.1,308.20 L142.8,308.20 L143.6,308.20 L144.3,308.20 L145.1,308.20 L145.8,308.20 L146.6,308.20 L147.3,308.20 L148.1,308.20 L148.8,308.20 L149.6,308.20 L150.3,308.20 L151.1,308.20 L151.8,308.20 L152.6,308.20 L153.3,308.20 L154.1,308.20 L154.8,308.20 L155.6,308.20 L156.3,308.20 L157.1,308.20 L157.8,308.20 L158.6,308.20 L159.3,308.20 L160.1,308.20 L160.8,308.20 L161.6,308.20 L162.3,308.20 L163.1,308.20 L163.8,308.20 L164.6,308.20 L165.3,308.20 L166.1,308.20 L166.8,308.20 L167.6,308.20 L168.3,308.20 L169.1,308.20 L169.8,308.20 L170.6,308.20 L171.3,308.20 L172.1,308.20 L172.8,308.20 L173.6,308.20 L174.3,308.20 L175.1,308.20 L175.8,308.20 L176.6,308.20 L177.3,308.20 L178.1,308.20 L178.8,308.20 L179.6,308.20 L180.3,308.20 L181.1,308.20 L181.8,308.20 L182.6,308.20 L183.3,308.20 L184.1,308.20 L184.8,308.20 L185.6,308.20 L186.3,308.20 L187.1,308.20 L187.8,308.20 L188.6,308.20 L189.3,308.20 L190.1,308.20 L190.8,308.20 L191.6,308.20 L192.3,308.20 L193.1,308.20 L193.8,308.20 L194.6,308.20 L195.3,308.20 L196.1,308.20 L196.8,308.20 L197.6,308.20 L198.3,308.20 L199.1,308.20 L199.8,308.20 L200.6,308.20 L201.3,308.20 L202.1,308.20 L202.8,308.20 L203.6,308.20 L204.3,308.20 L205.1,308.20 L205.8,308.20 L206.6,308.20 L207.3,308.20 L208.1,308.20 L208.8,308.20 L209.6,308.20 L210.3,308.20 L211.1,308.20 L211.8,308.20 L212.6,308.20 L213.3,308.20 L214.1,308.20 L214.8,308.20 L215.6,308.20 L216.3,308.20" fill="none" stroke="#f014dc" stroke-width="1.3" stroke-linejoin="round" opacity="0.88"/>
<path d="M66.3,225.5 H217.5" stroke="#666" stroke-width="1" fill="none"/>
<path d="M217.5,225.5 V308.2" stroke="#555" stroke-width="1.4" fill="none"/>
<path d="M66.3,225.5 V308.2" stroke="#333" stroke-width="1.0" fill="none"/>
<path d="M65.8,308.30 H218.2" stroke="#30103a" stroke-width="1.5" fill="none" opacity="0.9"/>
<path d="M66.30,308.2 v3.6 M73.63,308.2 v1.6 M80.96,308.2 v1.6 M88.29,308.2 v1.6 M95.62,308.2 v3.6 M102.95,308.2 v1.6 M110.28,308.2 v1.6 M117.61,308.2 v1.6 M124.94,308.2 v3.6 M132.27,308.2 v1.6 M139.60,308.2 v1.6 M146.93,308.2 v1.6 M154.26,308.2 v3.6 M161.59,308.2 v1.6 M168.92,308.2 v1.6 M176.25,308.2 v1.6 M183.58,308.2 v3.6 M190.91,308.2 v1.6 M198.24,308.2 v1.6 M205.57,308.2 v1.6 M212.90,308.2 v3.6" stroke="#222" stroke-width="0.9" fill="none"/>
<path d="M66.3,308.20 h-4.0 M66.3,304.28 h-2.0 M66.3,300.36 h-2.0 M66.3,296.44 h-2.0 M66.3,292.52 h-2.0 M66.3,288.60 h-4.0 M66.3,284.68 h-2.0 M66.3,280.76 h-2.0 M66.3,276.84 h-2.0 M66.3,272.92 h-2.0 M66.3,269.00 h-4.0 M66.3,265.08 h-2.0 M66.3,261.16 h-2.0 M66.3,257.24 h-2.0 M66.3,253.32 h-2.0 M66.3,249.40 h-4.0 M66.3,245.48 h-2.0 M66.3,241.56 h-2.0 M66.3,237.64 h-2.0 M66.3,233.72 h-2.0 M66.3,229.80 h-4.0 M66.3,225.88 h-2.0" stroke="#222" stroke-width="0.8" fill="none"/>
<text x="68.3" y="319.5" class="tk">0</text>
<text x="93.7" y="319.5" class="tk">200</text>
<text x="123.0" y="319.5" class="tk">400</text>
<text x="152.4" y="319.5" class="tk">600</text>
<text x="181.7" y="319.5" class="tk">800</text>
<text x="211.0" y="319.5" class="tk">1K</text>
</g>
<g>
<path d="M268.8,308.30 L268.8,308.29 L269.6,308.28 L270.3,308.27 L271.1,308.26 L271.8,308.25 L272.6,308.23 L273.3,308.20 L274.1,308.17 L274.8,308.12 L275.6,308.07 L276.3,308.00 L277.1,307.92 L277.8,307.83 L278.6,307.72 L279.3,307.60 L280.1,307.47 L280.8,307.33 L281.6,307.18 L282.3,307.03 L283.1,306.88 L283.8,306.73 L284.6,306.60 L285.3,306.49 L286.1,306.40 L286.8,306.34 L287.6,306.31 L288.3,306.30 L289.1,306.33 L289.8,306.39 L290.6,306.47 L291.3,306.58 L292.1,306.71 L292.8,306.85 L293.6,307.00 L294.3,307.15 L295.1,307.30 L295.8,307.44 L296.6,307.58 L297.3,307.70 L298.1,307.81 L298.8,307.90 L299.6,307.99 L300.3,308.06 L301.1,308.11 L301.8,308.16 L302.6,308.19 L303.3,308.22 L304.1,308.24 L304.8,308.26 L305.6,308.27 L306.3,308.28 L307.1,308.29 L307.1,308.30 Z" fill="#f3e08c" style="mix-blend-mode:multiply"/>
<path d="M261.5,308.30 L261.5,308.09 L262.2,307.93 L263.0,307.66 L263.8,307.23 L264.5,306.57 L265.2,305.61 L266.0,304.26 L266.8,302.44 L267.5,300.10 L268.2,297.21 L269.0,293.83 L269.8,290.08 L270.5,286.14 L271.2,282.28 L272.0,278.80 L272.8,276.02 L273.5,274.19 L274.2,273.50 L275.0,273.98 L275.8,275.51 L276.5,277.96 L277.2,281.11 L278.0,284.69 L278.8,288.45 L279.5,292.13 L280.2,295.54 L281.0,298.55 L281.8,301.08 L282.5,303.13 L283.2,304.71 L284.0,305.88 L284.8,306.72 L285.5,307.31 L286.2,307.69 L287.0,307.94 L287.0,308.30 Z" fill="#9be57c" style="mix-blend-mode:multiply"/>
<path d="M277.4,308.30 L277.4,307.87 L278.1,307.62 L278.9,307.25 L279.6,306.71 L280.4,305.94 L281.1,304.87 L281.9,303.43 L282.6,301.52 L283.4,299.07 L284.1,296.01 L284.9,292.27 L285.6,287.85 L286.4,282.77 L287.1,277.12 L287.9,271.02 L288.6,264.68 L289.4,258.35 L290.1,252.34 L290.9,246.94 L291.6,242.45 L292.4,239.16 L293.1,237.25 L293.9,236.84 L294.6,237.93 L295.4,240.44 L296.1,244.20 L296.9,248.99 L297.6,254.56 L298.4,260.61 L299.1,266.85 L299.9,273.01 L300.6,278.88 L301.4,284.28 L302.1,289.09 L302.9,293.25 L303.6,296.75 L304.4,299.62 L305.1,301.92 L305.9,303.70 L306.6,305.05 L307.4,306.05 L308.1,306.78 L308.9,307.29 L309.6,307.64 L309.6,308.30 Z" fill="#84f7f7" style="mix-blend-mode:multiply"/>
<path d="M232.5,308.30 L233.2,308.30 L234.0,308.30 L234.8,308.30 L235.5,308.30 L236.2,308.30 L237.0,308.30 L237.8,308.30 L238.5,308.30 L239.2,308.30 L240.0,308.30 L240.8,308.30 L241.5,308.30 L242.2,308.30 L243.0,308.30 L243.8,308.30 L244.5,308.30 L245.2,308.30 L246.0,308.30 L246.8,308.30 L247.5,308.30 L248.2,308.30 L249.0,308.30 L249.8,308.30 L250.5,308.30 L251.2,308.30 L252.0,308.29 L252.8,308.28 L253.5,308.26 L254.2,308.20 L255.0,308.10 L255.8,307.92 L256.5,307.61 L257.2,307.12 L258.0,306.40 L258.8,305.44 L259.5,304.24 L260.2,302.88 L261.0,301.50 L261.8,300.24 L262.5,299.29 L263.2,298.72 L264.0,298.49 L264.8,298.40 L265.5,298.32 L266.2,298.06 L267.0,297.44 L267.8,296.29 L268.5,294.53 L269.2,292.15 L270.0,289.26 L270.8,286.06 L271.5,282.85 L272.2,279.95 L273.0,277.69 L273.8,276.34 L274.5,276.07 L275.2,276.76 L276.0,278.30 L276.8,280.55 L277.5,283.28 L278.2,286.26 L279.0,289.22 L279.8,291.92 L280.5,294.15 L281.2,295.74 L282.0,296.56 L282.8,296.51 L283.5,295.56 L284.2,293.66 L285.0,290.83 L285.8,287.10 L286.5,282.54 L287.2,277.27 L288.0,271.46 L288.8,265.31 L289.5,259.11 L290.2,253.16 L291.0,247.78 L291.8,243.28 L292.5,239.96 L293.2,238.01 L294.0,237.59 L294.8,238.70 L295.5,241.26 L296.2,245.08 L297.0,249.84 L297.8,255.19 L298.5,260.70 L299.2,265.99 L300.0,270.76 L300.8,274.90 L301.5,278.43 L302.2,281.57 L303.0,284.60 L303.8,287.69 L304.5,290.72 L305.2,293.58 L306.0,296.18 L306.8,298.42 L307.5,300.18 L308.2,301.43 L309.0,302.22 L309.8,302.66 L310.5,302.93 L311.2,303.19 L312.0,303.56 L312.8,304.10 L313.5,304.78 L314.2,305.53 L315.0,306.26 L315.8,306.90 L316.5,307.40 L317.2,307.76 L318.0,308.00 L318.8,308.15 L319.5,308.23 L320.2,308.27 L321.0,308.29 L321.8,308.29 L322.5,308.30 L323.2,308.30 L324.0,308.30 L324.8,308.30 L325.5,308.30 L326.2,308.30 L327.0,308.30 L327.8,308.30 L328.5,308.30 L329.2,308.30 L330.0,308.30 L330.8,308.30 L331.5,308.30 L332.2,308.30 L333.0,308.30 L333.8,308.30 L334.5,308.30 L335.2,308.30 L336.0,308.30 L336.8,308.30 L337.5,308.30 L338.2,308.30 L339.0,308.30 L339.8,308.30 L340.5,308.30 L341.2,308.30 L342.0,308.30 L342.8,308.30 L343.5,308.30 L344.2,308.30 L345.0,308.30 L345.8,308.30 L346.5,308.30 L347.2,308.30 L348.0,308.30 L348.8,308.30 L349.5,308.30 L350.2,308.30 L351.0,308.30 L351.8,308.30 L352.5,308.30 L353.2,308.30 L354.0,308.30 L354.8,308.30 L355.5,308.30 L356.2,308.30 L357.0,308.30 L357.8,308.30 L358.5,308.30 L359.2,308.30 L360.0,308.30 L360.8,308.30 L361.5,308.30 L362.2,308.30 L363.0,308.30 L363.8,308.30 L364.5,308.30 L365.2,308.30 L366.0,308.30 L366.8,308.30 L367.5,308.30 L368.2,308.30 L369.0,308.30 L369.8,308.30 L370.5,308.30 L371.2,308.30 L372.0,308.30 L372.8,308.30 L373.5,308.30 L374.2,308.30 L375.0,308.30 L375.8,308.30 L376.5,308.30 L377.2,308.30 L378.0,308.30 L378.8,308.30 L379.5,308.30 L380.2,308.30 L381.0,308.30 L381.8,308.30 L382.5,308.30" fill="none" stroke="#1c1c1c" stroke-width="1.15" stroke-linejoin="round"/>
<path d="M232.5,308.30 L233.2,308.30 L234.0,308.30 L234.8,308.30 L235.5,308.30 L236.2,308.30 L237.0,308.30 L237.8,308.30 L238.5,308.30 L239.2,308.30 L240.0,308.30 L240.8,308.30 L241.5,308.30 L242.2,308.30 L243.0,308.30 L243.8,308.30 L244.5,308.30 L245.2,308.30 L246.0,308.30 L246.8,308.30 L247.5,308.30 L248.2,308.30 L249.0,308.30 L249.8,308.30 L250.5,308.30 L251.2,308.30 L252.0,308.30 L252.8,308.30 L253.5,308.30 L254.2,308.30 L255.0,308.30 L255.8,308.30 L256.5,308.30 L257.2,308.30 L258.0,308.29 L258.8,308.28 L259.5,308.26 L260.2,308.23 L261.0,308.16 L261.8,308.05 L262.5,307.85 L263.2,307.53 L264.0,307.04 L264.8,306.29 L265.5,305.20 L266.2,303.70 L267.0,301.71 L267.8,299.19 L268.5,296.13 L269.2,292.60 L270.0,288.75 L270.8,284.79 L271.5,281.01 L272.2,277.71 L273.0,275.18 L273.8,273.67 L274.5,273.32 L275.2,274.07 L276.0,275.79 L276.8,278.31 L277.5,281.37 L278.2,284.68 L279.0,287.92 L279.8,290.83 L280.5,293.17 L281.2,294.75 L282.0,295.46 L282.8,295.20 L283.5,293.95 L284.2,291.71 L285.0,288.49 L285.8,284.37 L286.5,279.45 L287.2,273.88 L288.0,267.84 L288.8,261.58 L289.5,255.37 L290.2,249.53 L291.0,244.37 L291.8,240.19 L292.5,237.24 L293.2,235.71 L294.0,235.71 L294.8,237.18 L295.5,240.04 L296.2,244.12 L297.0,249.19 L297.8,254.97 L298.5,261.17 L299.2,267.50 L300.0,273.71 L300.8,279.57 L301.5,284.93 L302.2,289.68 L303.0,293.77 L303.8,297.19 L304.5,299.98 L305.2,302.20 L306.0,303.92 L306.8,305.22 L307.5,306.18 L308.2,306.87 L309.0,307.35 L309.8,307.69 L310.5,307.91 L311.2,308.06 L312.0,308.15 L312.8,308.21 L313.5,308.25 L314.2,308.27 L315.0,308.28 L315.8,308.29 L316.5,308.30 L317.2,308.30 L318.0,308.30 L318.8,308.30 L319.5,308.30 L320.2,308.30 L321.0,308.30 L321.8,308.30 L322.5,308.30 L323.2,308.30 L324.0,308.30 L324.8,308.30 L325.5,308.30 L326.2,308.30 L327.0,308.30 L327.8,308.30 L328.5,308.30 L329.2,308.30 L330.0,308.30 L330.8,308.30 L331.5,308.30 L332.2,308.30 L333.0,308.30 L333.8,308.30 L334.5,308.30 L335.2,308.30 L336.0,308.30 L336.8,308.30 L337.5,308.30 L338.2,308.30 L339.0,308.30 L339.8,308.30 L340.5,308.30 L341.2,308.30 L342.0,308.30 L342.8,308.30 L343.5,308.30 L344.2,308.30 L345.0,308.30 L345.8,308.30 L346.5,308.30 L347.2,308.30 L348.0,308.30 L348.8,308.30 L349.5,308.30 L350.2,308.30 L351.0,308.30 L351.8,308.30 L352.5,308.30 L353.2,308.30 L354.0,308.30 L354.8,308.30 L355.5,308.30 L356.2,308.30 L357.0,308.30 L357.8,308.30 L358.5,308.30 L359.2,308.30 L360.0,308.30 L360.8,308.30 L361.5,308.30 L362.2,308.30 L363.0,308.30 L363.8,308.30 L364.5,308.30 L365.2,308.30 L366.0,308.30 L366.8,308.30 L367.5,308.30 L368.2,308.30 L369.0,308.30 L369.8,308.30 L370.5,308.30 L371.2,308.30 L372.0,308.30 L372.8,308.30 L373.5,308.30 L374.2,308.30 L375.0,308.30 L375.8,308.30 L376.5,308.30 L377.2,308.30 L378.0,308.30 L378.8,308.30 L379.5,308.30 L380.2,308.30 L381.0,308.30 L381.8,308.30 L382.5,308.30" fill="none" stroke="#f014dc" stroke-width="1.3" stroke-linejoin="round" opacity="0.88"/>
<path d="M232.5,228.8 H384.2" stroke="#b0b0b0" stroke-width="1" fill="none"/>
<path d="M384.2,228.8 V308.3" stroke="#555" stroke-width="1.4" fill="none"/>
<path d="M232.5,228.8 V308.3" stroke="#333" stroke-width="1.0" fill="none"/>
<path d="M232.0,308.40 H384.9" stroke="#30103a" stroke-width="1.5" fill="none" opacity="0.9"/>
<path d="M232.50,308.3 v3.6 M239.85,308.3 v1.6 M247.21,308.3 v1.6 M254.56,308.3 v1.6 M261.92,308.3 v3.6 M269.27,308.3 v1.6 M276.63,308.3 v1.6 M283.99,308.3 v1.6 M291.34,308.3 v3.6 M298.69,308.3 v1.6 M306.05,308.3 v1.6 M313.40,308.3 v1.6 M320.76,308.3 v3.6 M328.12,308.3 v1.6 M335.47,308.3 v1.6 M342.82,308.3 v1.6 M350.18,308.3 v3.6 M357.53,308.3 v1.6 M364.89,308.3 v1.6 M372.25,308.3 v1.6 M379.60,308.3 v3.6" stroke="#222" stroke-width="0.9" fill="none"/>
<path d="M232.5,308.30 h-4.0 M232.5,304.76 h-2.0 M232.5,301.22 h-2.0 M232.5,297.68 h-2.0 M232.5,294.14 h-2.0 M232.5,290.60 h-4.0 M232.5,287.06 h-2.0 M232.5,283.52 h-2.0 M232.5,279.98 h-2.0 M232.5,276.44 h-2.0 M232.5,272.90 h-4.0 M232.5,269.36 h-2.0 M232.5,265.82 h-2.0 M232.5,262.28 h-2.0 M232.5,258.74 h-2.0 M232.5,255.20 h-4.0 M232.5,251.66 h-2.0 M232.5,248.12 h-2.0 M232.5,244.58 h-2.0 M232.5,241.04 h-2.0 M232.5,237.50 h-4.0 M232.5,233.96 h-2.0 M232.5,230.42 h-2.0" stroke="#222" stroke-width="0.8" fill="none"/>
<text x="234.5" y="318.7" class="tk">0</text>
<text x="260.0" y="318.7" class="tk">200</text>
<text x="289.4" y="318.7" class="tk">400</text>
<text x="318.9" y="318.7" class="tk">600</text>
<text x="348.3" y="318.7" class="tk">800</text>
<text x="377.7" y="318.7" class="tk">1K</text>
</g>
<g>
<path d="M430.0,307.50 L430.0,307.49 L430.8,307.48 L431.5,307.46 L432.2,307.44 L433.0,307.41 L433.8,307.38 L434.5,307.32 L435.2,307.25 L436.0,307.16 L436.8,307.05 L437.5,306.91 L438.2,306.75 L439.0,306.56 L439.8,306.36 L440.5,306.13 L441.2,305.91 L442.0,305.68 L442.8,305.48 L443.5,305.29 L444.2,305.15 L445.0,305.05 L445.8,305.00 L446.5,305.01 L447.2,305.08 L448.0,305.19 L448.8,305.35 L449.5,305.54 L450.2,305.76 L451.0,305.98 L451.8,306.21 L452.5,306.43 L453.2,306.63 L454.0,306.80 L454.8,306.96 L455.5,307.09 L456.2,307.19 L457.0,307.28 L457.8,307.34 L458.5,307.39 L459.2,307.43 L460.0,307.45 L460.8,307.47 L461.5,307.48 L461.5,307.50 Z" fill="#f3e08c" style="mix-blend-mode:multiply"/>
<path d="M427.1,307.50 L427.1,307.33 L427.8,307.13 L428.6,306.77 L429.3,306.14 L430.1,305.10 L430.8,303.50 L431.6,301.21 L432.3,298.18 L433.1,294.46 L433.8,290.31 L434.6,286.12 L435.3,282.42 L436.1,279.75 L436.8,278.54 L437.6,278.94 L438.3,280.76 L439.1,283.72 L439.8,287.42 L440.6,291.40 L441.3,295.24 L442.1,298.63 L442.8,301.41 L443.6,303.53 L444.3,305.04 L445.1,306.05 L445.8,306.69 L446.6,307.07 L447.3,307.28 L447.3,307.50 Z" fill="#9be57c" style="mix-blend-mode:multiply"/>
<path d="M439.4,307.50 L439.4,307.06 L440.2,306.82 L440.9,306.47 L441.7,305.97 L442.4,305.26 L443.2,304.30 L443.9,303.01 L444.7,301.33 L445.4,299.17 L446.2,296.48 L446.9,293.19 L447.7,289.27 L448.4,284.72 L449.2,279.59 L449.9,273.95 L450.7,267.94 L451.4,261.74 L452.2,255.59 L452.9,249.74 L453.7,244.45 L454.4,239.99 L455.2,236.60 L455.9,234.47 L456.7,233.70 L457.4,234.23 L458.2,235.88 L458.9,238.58 L459.7,242.21 L460.4,246.60 L461.2,251.58 L461.9,256.95 L462.7,262.51 L463.4,268.08 L464.2,273.50 L464.9,278.63 L465.7,283.36 L466.4,287.63 L467.2,291.40 L467.9,294.66 L468.7,297.41 L469.4,299.70 L470.2,301.56 L470.9,303.05 L471.7,304.22 L472.4,305.12 L473.2,305.79 L473.9,306.30 L474.7,306.67 L475.4,306.93 L475.4,307.50 Z" fill="#84f7f7" style="mix-blend-mode:multiply"/>
<path d="M397.5,307.50 L398.2,307.50 L399.0,307.50 L399.8,307.50 L400.5,307.50 L401.2,307.50 L402.0,307.50 L402.8,307.50 L403.5,307.50 L404.2,307.50 L405.0,307.50 L405.8,307.50 L406.5,307.50 L407.2,307.50 L408.0,307.50 L408.8,307.50 L409.5,307.50 L410.2,307.50 L411.0,307.50 L411.8,307.50 L412.5,307.50 L413.2,307.50 L414.0,307.50 L414.8,307.50 L415.5,307.49 L416.2,307.48 L417.0,307.46 L417.8,307.41 L418.5,307.33 L419.2,307.18 L420.0,306.93 L420.8,306.54 L421.5,306.00 L422.2,305.30 L423.0,304.46 L423.8,303.56 L424.5,302.69 L425.2,301.99 L426.0,301.55 L426.8,301.44 L427.5,301.53 L428.2,301.71 L429.0,301.89 L429.8,301.91 L430.5,301.59 L431.2,300.76 L432.0,299.26 L432.8,297.03 L433.5,294.17 L434.2,290.94 L435.0,287.74 L435.8,285.06 L436.5,283.33 L437.2,282.81 L438.0,283.35 L438.8,284.71 L439.5,286.59 L440.2,288.64 L441.0,290.50 L441.8,291.96 L442.5,292.88 L443.2,293.26 L444.0,293.17 L444.8,292.68 L445.5,291.82 L446.2,290.56 L447.0,288.85 L447.8,286.56 L448.5,283.60 L449.2,279.91 L450.0,275.50 L450.8,270.46 L451.5,264.96 L452.2,259.23 L453.0,253.55 L453.8,248.25 L454.5,243.61 L455.2,239.93 L456.0,237.45 L456.8,236.33 L457.5,236.60 L458.2,238.12 L459.0,240.79 L459.8,244.48 L460.5,249.00 L461.2,254.09 L462.0,259.48 L462.8,264.86 L463.5,269.91 L464.2,274.34 L465.0,277.93 L465.8,280.60 L466.5,282.47 L467.2,283.84 L468.0,285.11 L468.8,286.70 L469.5,288.72 L470.2,290.80 L471.0,292.91 L471.8,295.02 L472.5,297.09 L473.2,299.05 L474.0,300.84 L474.8,302.41 L475.5,303.73 L476.2,304.79 L477.0,305.62 L477.8,306.24 L478.5,306.68 L479.2,306.99 L480.0,307.19 L480.8,307.32 L481.5,307.40 L482.2,307.44 L483.0,307.47 L483.8,307.48 L484.5,307.49 L485.2,307.50 L486.0,307.50 L486.8,307.50 L487.5,307.50 L488.2,307.50 L489.0,307.50 L489.8,307.50 L490.5,307.50 L491.2,307.50 L492.0,307.50 L492.8,307.50 L493.5,307.50 L494.2,307.50 L495.0,307.50 L495.8,307.50 L496.5,307.50 L497.2,307.50 L498.0,307.50 L498.8,307.50 L499.5,307.50 L500.2,307.50 L501.0,307.50 L501.8,307.50 L502.5,307.50 L503.2,307.50 L504.0,307.50 L504.8,307.50 L505.5,307.50 L506.2,307.50 L507.0,307.50 L507.8,307.50 L508.5,307.50 L509.2,307.50 L510.0,307.50 L510.8,307.50 L511.5,307.50 L512.2,307.50 L513.0,307.50 L513.8,307.50 L514.5,307.50 L515.2,307.50 L516.0,307.50 L516.8,307.50 L517.5,307.50 L518.2,307.50 L519.0,307.50 L519.8,307.50 L520.5,307.50 L521.2,307.50 L522.0,307.50 L522.8,307.50 L523.5,307.50 L524.2,307.50 L525.0,307.50 L525.8,307.50 L526.5,307.50 L527.2,307.50 L528.0,307.50 L528.8,307.50 L529.5,307.50 L530.2,307.50 L531.0,307.50 L531.8,307.50 L532.5,307.50 L533.2,307.50 L534.0,307.50 L534.8,307.50 L535.5,307.50 L536.2,307.50 L537.0,307.50 L537.8,307.50 L538.5,307.50 L539.2,307.50 L540.0,307.50 L540.8,307.50 L541.5,307.50 L542.2,307.50 L543.0,307.50 L543.8,307.50 L544.5,307.50 L545.2,307.50 L546.0,307.50 L546.8,307.50 L547.5,307.50" fill="none" stroke="#1c1c1c" stroke-width="1.15" stroke-linejoin="round"/>
<path d="M397.5,307.50 L398.2,307.50 L399.0,307.50 L399.8,307.50 L400.5,307.50 L401.2,307.50 L402.0,307.50 L402.8,307.50 L403.5,307.50 L404.2,307.50 L405.0,307.50 L405.8,307.50 L406.5,307.50 L407.2,307.50 L408.0,307.50 L408.8,307.50 L409.5,307.50 L410.2,307.50 L411.0,307.50 L411.8,307.50 L412.5,307.50 L413.2,307.50 L414.0,307.50 L414.8,307.50 L415.5,307.50 L416.2,307.50 L417.0,307.50 L417.8,307.50 L418.5,307.50 L419.2,307.50 L420.0,307.50 L420.8,307.50 L421.5,307.50 L422.2,307.50 L423.0,307.50 L423.8,307.50 L424.5,307.49 L425.2,307.48 L426.0,307.45 L426.8,307.38 L427.5,307.23 L428.2,306.96 L429.0,306.45 L429.8,305.60 L430.5,304.26 L431.2,302.27 L432.0,299.55 L432.8,296.09 L433.5,292.05 L434.2,287.76 L435.0,283.70 L435.8,280.42 L436.5,278.40 L437.2,277.93 L438.0,278.92 L438.8,281.14 L439.5,284.20 L440.2,287.64 L441.0,290.99 L441.8,293.87 L442.5,295.99 L443.2,297.21 L444.0,297.49 L444.8,296.86 L445.5,295.37 L446.2,293.09 L447.0,290.05 L447.8,286.32 L448.5,281.93 L449.2,276.95 L450.0,271.49 L450.8,265.68 L451.5,259.71 L452.2,253.80 L453.0,248.20 L453.8,243.18 L454.5,238.99 L455.2,235.86 L456.0,233.98 L456.8,233.45 L457.5,234.18 L458.2,236.00 L459.0,238.84 L459.8,242.59 L460.5,247.07 L461.2,252.12 L462.0,257.53 L462.8,263.10 L463.5,268.67 L464.2,274.06 L465.0,279.15 L465.8,283.84 L466.5,288.06 L467.2,291.77 L468.0,294.97 L468.8,297.68 L469.5,299.92 L470.2,301.74 L471.0,303.19 L471.8,304.32 L472.5,305.20 L473.2,305.86 L474.0,306.34 L474.8,306.70 L475.5,306.96 L476.2,307.13 L477.0,307.26 L477.8,307.34 L478.5,307.40 L479.2,307.44 L480.0,307.46 L480.8,307.48 L481.5,307.49 L482.2,307.49 L483.0,307.50 L483.8,307.50 L484.5,307.50 L485.2,307.50 L486.0,307.50 L486.8,307.50 L487.5,307.50 L488.2,307.50 L489.0,307.50 L489.8,307.50 L490.5,307.50 L491.2,307.50 L492.0,307.50 L492.8,307.50 L493.5,307.50 L494.2,307.50 L495.0,307.50 L495.8,307.50 L496.5,307.50 L497.2,307.50 L498.0,307.50 L498.8,307.50 L499.5,307.50 L500.2,307.50 L501.0,307.50 L501.8,307.50 L502.5,307.50 L503.2,307.50 L504.0,307.50 L504.8,307.50 L505.5,307.50 L506.2,307.50 L507.0,307.50 L507.8,307.50 L508.5,307.50 L509.2,307.50 L510.0,307.50 L510.8,307.50 L511.5,307.50 L512.2,307.50 L513.0,307.50 L513.8,307.50 L514.5,307.50 L515.2,307.50 L516.0,307.50 L516.8,307.50 L517.5,307.50 L518.2,307.50 L519.0,307.50 L519.8,307.50 L520.5,307.50 L521.2,307.50 L522.0,307.50 L522.8,307.50 L523.5,307.50 L524.2,307.50 L525.0,307.50 L525.8,307.50 L526.5,307.50 L527.2,307.50 L528.0,307.50 L528.8,307.50 L529.5,307.50 L530.2,307.50 L531.0,307.50 L531.8,307.50 L532.5,307.50 L533.2,307.50 L534.0,307.50 L534.8,307.50 L535.5,307.50 L536.2,307.50 L537.0,307.50 L537.8,307.50 L538.5,307.50 L539.2,307.50 L540.0,307.50 L540.8,307.50 L541.5,307.50 L542.2,307.50 L543.0,307.50 L543.8,307.50 L544.5,307.50 L545.2,307.50 L546.0,307.50 L546.8,307.50 L547.5,307.50" fill="none" stroke="#f014dc" stroke-width="1.3" stroke-linejoin="round" opacity="0.88"/>
<path d="M397.5,227.8 H549.2" stroke="#b0b0b0" stroke-width="1" fill="none"/>
<path d="M549.2,227.8 V307.5" stroke="#555" stroke-width="1.4" fill="none"/>
<path d="M397.5,227.8 V307.5" stroke="#333" stroke-width="1.0" fill="none"/>
<path d="M397.0,307.60 H549.9000000000001" stroke="#30103a" stroke-width="1.5" fill="none" opacity="0.9"/>
<path d="M397.50,307.5 v3.6 M404.86,307.5 v1.6 M412.21,307.5 v1.6 M419.56,307.5 v1.6 M426.92,307.5 v3.6 M434.28,307.5 v1.6 M441.63,307.5 v1.6 M448.99,307.5 v1.6 M456.34,307.5 v3.6 M463.70,307.5 v1.6 M471.05,307.5 v1.6 M478.41,307.5 v1.6 M485.76,307.5 v3.6 M493.12,307.5 v1.6 M500.47,307.5 v1.6 M507.83,307.5 v1.6 M515.18,307.5 v3.6 M522.54,307.5 v1.6 M529.89,307.5 v1.6 M537.25,307.5 v1.6 M544.60,307.5 v3.6" stroke="#222" stroke-width="0.9" fill="none"/>
<path d="M397.5,307.50 h-4.0 M397.5,302.88 h-2.0 M397.5,298.26 h-2.0 M397.5,293.64 h-2.0 M397.5,289.02 h-2.0 M397.5,284.40 h-4.0 M397.5,279.78 h-2.0 M397.5,275.16 h-2.0 M397.5,270.54 h-2.0 M397.5,265.92 h-2.0 M397.5,261.30 h-4.0 M397.5,256.68 h-2.0 M397.5,252.06 h-2.0 M397.5,247.44 h-2.0 M397.5,242.82 h-2.0 M397.5,238.20 h-4.0 M397.5,233.58 h-2.0 M397.5,228.96 h-2.0" stroke="#222" stroke-width="0.8" fill="none"/>
<text x="399.5" y="317.9" class="tk">0</text>
<text x="425.0" y="317.9" class="tk">200</text>
<text x="454.4" y="317.9" class="tk">400</text>
<text x="483.9" y="317.9" class="tk">600</text>
<text x="513.3" y="317.9" class="tk">800</text>
<text x="542.7" y="317.9" class="tk">1K</text>
</g>
<g>
<path d="M79.7,408.00 L79.7,407.95 L80.5,407.93 L81.2,407.90 L82.0,407.86 L82.7,407.81 L83.5,407.74 L84.2,407.66 L85.0,407.54 L85.7,407.40 L86.5,407.23 L87.2,407.01 L88.0,406.76 L88.7,406.46 L89.5,406.11 L90.2,405.72 L91.0,405.28 L91.7,404.80 L92.5,404.28 L93.2,403.74 L94.0,403.19 L94.7,402.63 L95.5,402.08 L96.2,401.57 L97.0,401.11 L97.7,400.71 L98.5,400.39 L99.2,400.16 L100.0,400.03 L100.7,400.00 L101.5,400.06 L102.2,400.18 L103.0,400.37 L103.7,400.62 L104.5,400.92 L105.2,401.27 L106.0,401.66 L106.7,402.08 L107.5,402.51 L108.2,402.97 L109.0,403.42 L109.7,403.87 L110.5,404.31 L111.2,404.73 L112.0,405.13 L112.7,405.50 L113.5,405.84 L114.2,406.15 L115.0,406.43 L115.7,406.68 L116.5,406.90 L117.2,407.09 L118.0,407.26 L118.7,407.40 L119.5,407.52 L120.2,407.61 L121.0,407.70 L121.7,407.76 L122.5,407.81 L123.2,407.86 L124.0,407.89 L124.7,407.92 L125.5,407.94 L125.5,408.00 Z" fill="#f3e08c" style="mix-blend-mode:multiply"/>
<path d="M85.7,408.00 L85.7,407.56 L86.4,406.98 L87.2,405.78 L87.9,403.55 L88.7,399.74 L89.4,393.80 L90.2,385.41 L90.9,374.72 L91.7,362.62 L92.4,350.71 L93.2,341.04 L93.9,335.56 L94.7,335.29 L95.4,339.35 L96.2,346.86 L96.9,356.64 L97.7,367.32 L98.4,377.60 L99.2,386.58 L99.9,393.76 L100.7,399.08 L101.4,402.72 L102.2,405.06 L102.9,406.45 L103.7,407.23 L103.7,408.00 Z" fill="#9be57c" style="mix-blend-mode:multiply"/>
<path d="M100.9,408.00 L100.9,407.92 L101.7,407.88 L102.4,407.82 L103.2,407.74 L103.9,407.62 L104.7,407.45 L105.4,407.23 L106.2,406.95 L106.9,406.58 L107.7,406.12 L108.4,405.56 L109.2,404.89 L109.9,404.11 L110.7,403.23 L111.4,402.27 L112.2,401.25 L112.9,400.19 L113.7,399.14 L114.4,398.14 L115.2,397.24 L115.9,396.47 L116.7,395.90 L117.4,395.53 L118.2,395.40 L118.9,395.49 L119.7,395.77 L120.4,396.23 L121.2,396.85 L121.9,397.60 L122.7,398.45 L123.4,399.37 L124.2,400.32 L124.9,401.27 L125.7,402.20 L126.4,403.07 L127.2,403.88 L127.9,404.61 L128.7,405.25 L129.4,405.81 L130.2,406.28 L130.9,406.67 L131.7,406.99 L132.4,407.24 L133.2,407.44 L133.9,407.59 L134.7,407.71 L135.4,407.80 L136.2,407.86 L136.9,407.90 L136.9,408.00 Z" fill="#84f7f7" style="mix-blend-mode:multiply"/>
<path d="M65.5,408.00 L66.2,408.00 L67.0,408.00 L67.8,407.99 L68.5,407.99 L69.2,407.98 L70.0,407.96 L70.8,407.94 L71.5,407.92 L72.2,407.88 L73.0,407.83 L73.8,407.76 L74.5,407.69 L75.2,407.60 L76.0,407.51 L76.8,407.41 L77.5,407.33 L78.2,407.25 L79.0,407.19 L79.8,407.15 L80.5,407.14 L81.2,407.14 L82.0,407.15 L82.8,407.17 L83.5,407.17 L84.2,407.14 L85.0,407.01 L85.8,406.71 L86.5,406.08 L87.2,404.85 L88.0,402.63 L88.8,398.92 L89.5,393.23 L90.2,385.25 L91.0,375.14 L91.8,363.68 L92.5,352.33 L93.2,342.97 L94.0,337.37 L94.8,336.44 L95.5,338.94 L96.2,344.19 L97.0,351.43 L97.8,359.75 L98.5,368.22 L99.2,376.09 L100.0,382.86 L100.8,388.33 L101.5,392.47 L102.2,395.45 L103.0,397.49 L103.8,398.86 L104.5,399.76 L105.2,400.34 L106.0,400.73 L106.8,400.98 L107.5,401.11 L108.2,401.13 L109.0,401.05 L109.8,400.86 L110.5,400.55 L111.2,400.12 L112.0,399.60 L112.8,398.98 L113.5,398.32 L114.2,397.63 L115.0,396.96 L115.8,396.36 L116.5,395.87 L117.2,395.53 L118.0,395.37 L118.8,395.41 L119.5,395.62 L120.2,395.99 L121.0,396.50 L121.8,397.13 L122.5,397.87 L123.2,398.69 L124.0,399.57 L124.8,400.46 L125.5,401.36 L126.2,402.24 L127.0,403.07 L127.8,403.84 L128.5,404.54 L129.2,405.17 L130.0,405.71 L130.8,406.18 L131.5,406.57 L132.2,406.90 L133.0,407.16 L133.8,407.37 L134.5,407.53 L135.2,407.66 L136.0,407.75 L136.8,407.83 L137.5,407.88 L138.2,407.92 L139.0,407.94 L139.8,407.96 L140.5,407.98 L141.2,407.98 L142.0,407.99 L142.8,407.99 L143.5,408.00 L144.2,408.00 L145.0,408.00 L145.8,408.00 L146.5,408.00 L147.2,408.00 L148.0,408.00 L148.8,408.00 L149.5,408.00 L150.2,408.00 L151.0,408.00 L151.8,408.00 L152.5,408.00 L153.2,408.00 L154.0,408.00 L154.8,408.00 L155.5,408.00 L156.2,408.00 L157.0,408.00 L157.8,408.00 L158.5,408.00 L159.2,408.00 L160.0,408.00 L160.8,408.00 L161.5,408.00 L162.2,408.00 L163.0,408.00 L163.8,408.00 L164.5,408.00 L165.2,408.00 L166.0,408.00 L166.8,408.00 L167.5,408.00 L168.2,408.00 L169.0,408.00 L169.8,408.00 L170.5,408.00 L171.2,408.00 L172.0,408.00 L172.8,408.00 L173.5,408.00 L174.2,408.00 L175.0,408.00 L175.8,408.00 L176.5,408.00 L177.2,408.00 L178.0,408.00 L178.8,408.00 L179.5,408.00 L180.2,408.00 L181.0,408.00 L181.8,408.00 L182.5,408.00 L183.2,408.00 L184.0,408.00 L184.8,408.00 L185.5,408.00 L186.2,408.00 L187.0,408.00 L187.8,408.00 L188.5,408.00 L189.2,408.00 L190.0,408.00 L190.8,408.00 L191.5,408.00 L192.2,408.00 L193.0,408.00 L193.8,408.00 L194.5,408.00 L195.2,408.00 L196.0,408.00 L196.8,408.00 L197.5,408.00 L198.2,408.00 L199.0,408.00 L199.8,408.00 L200.5,408.00 L201.2,408.00 L202.0,408.00 L202.8,408.00 L203.5,408.00 L204.2,408.00 L205.0,408.00 L205.8,408.00 L206.5,408.00 L207.2,408.00 L208.0,408.00 L208.8,408.00 L209.5,408.00 L210.2,408.00 L211.0,408.00 L211.8,408.00 L212.5,408.00 L213.2,408.00 L214.0,408.00 L214.8,408.00 L215.5,408.00" fill="none" stroke="#1c1c1c" stroke-width="1.15" stroke-linejoin="round"/>
<path d="M65.5,408.00 L66.2,408.00 L67.0,408.00 L67.8,408.00 L68.5,408.00 L69.2,408.00 L70.0,408.00 L70.8,408.00 L71.5,408.00 L72.2,408.00 L73.0,408.00 L73.8,408.00 L74.5,408.00 L75.2,408.00 L76.0,407.99 L76.8,407.99 L77.5,407.98 L78.2,407.98 L79.0,407.97 L79.8,407.95 L80.5,407.93 L81.2,407.90 L82.0,407.86 L82.8,407.80 L83.5,407.71 L84.2,407.58 L85.0,407.34 L85.8,406.90 L86.5,406.09 L87.2,404.58 L88.0,401.93 L88.8,397.59 L89.5,391.02 L90.2,381.93 L91.0,370.57 L91.8,357.91 L92.5,345.63 L93.2,335.84 L94.0,330.40 L94.8,330.16 L95.5,334.13 L96.2,341.48 L97.0,350.98 L97.8,361.27 L98.5,371.12 L99.2,379.66 L100.0,386.48 L100.8,391.53 L101.5,395.02 L102.2,397.30 L103.0,398.72 L103.8,399.58 L104.5,400.11 L105.2,400.44 L106.0,400.64 L106.8,400.75 L107.5,400.77 L108.2,400.69 L109.0,400.50 L109.8,400.20 L110.5,399.78 L111.2,399.25 L112.0,398.64 L112.8,397.95 L113.5,397.24 L114.2,396.53 L115.0,395.88 L115.8,395.33 L116.5,394.93 L117.2,394.70 L118.0,394.68 L118.8,394.86 L119.5,395.22 L120.2,395.73 L121.0,396.40 L121.8,397.19 L122.5,398.07 L123.2,399.02 L124.0,400.00 L124.8,400.98 L125.5,401.93 L126.2,402.83 L127.0,403.67 L127.8,404.43 L128.5,405.10 L129.2,405.68 L130.0,406.17 L130.8,406.58 L131.5,406.92 L132.2,407.18 L133.0,407.40 L133.8,407.56 L134.5,407.68 L135.2,407.78 L136.0,407.84 L136.8,407.89 L137.5,407.93 L138.2,407.95 L139.0,407.97 L139.8,407.98 L140.5,407.99 L141.2,407.99 L142.0,408.00 L142.8,408.00 L143.5,408.00 L144.2,408.00 L145.0,408.00 L145.8,408.00 L146.5,408.00 L147.2,408.00 L148.0,408.00 L148.8,408.00 L149.5,408.00 L150.2,408.00 L151.0,408.00 L151.8,408.00 L152.5,408.00 L153.2,408.00 L154.0,408.00 L154.8,408.00 L155.5,408.00 L156.2,408.00 L157.0,408.00 L157.8,408.00 L158.5,408.00 L159.2,408.00 L160.0,408.00 L160.8,408.00 L161.5,408.00 L162.2,408.00 L163.0,408.00 L163.8,408.00 L164.5,408.00 L165.2,408.00 L166.0,408.00 L166.8,408.00 L167.5,408.00 L168.2,408.00 L169.0,408.00 L169.8,408.00 L170.5,408.00 L171.2,408.00 L172.0,408.00 L172.8,408.00 L173.5,408.00 L174.2,408.00 L175.0,408.00 L175.8,408.00 L176.5,408.00 L177.2,408.00 L178.0,408.00 L178.8,408.00 L179.5,408.00 L180.2,408.00 L181.0,408.00 L181.8,408.00 L182.5,408.00 L183.2,408.00 L184.0,408.00 L184.8,408.00 L185.5,408.00 L186.2,408.00 L187.0,408.00 L187.8,408.00 L188.5,408.00 L189.2,408.00 L190.0,408.00 L190.8,408.00 L191.5,408.00 L192.2,408.00 L193.0,408.00 L193.8,408.00 L194.5,408.00 L195.2,408.00 L196.0,408.00 L196.8,408.00 L197.5,408.00 L198.2,408.00 L199.0,408.00 L199.8,408.00 L200.5,408.00 L201.2,408.00 L202.0,408.00 L202.8,408.00 L203.5,408.00 L204.2,408.00 L205.0,408.00 L205.8,408.00 L206.5,408.00 L207.2,408.00 L208.0,408.00 L208.8,408.00 L209.5,408.00 L210.2,408.00 L211.0,408.00 L211.8,408.00 L212.5,408.00 L213.2,408.00 L214.0,408.00 L214.8,408.00 L215.5,408.00" fill="none" stroke="#f014dc" stroke-width="1.3" stroke-linejoin="round" opacity="0.88"/>
<path d="M65.5,327.5 H217" stroke="#777" stroke-width="1" fill="none"/>
<path d="M217,327.5 V408" stroke="#555" stroke-width="1.4" fill="none"/>
<path d="M65.5,327.5 V408" stroke="#333" stroke-width="1.0" fill="none"/>
<path d="M65.0,408.10 H217.7" stroke="#30103a" stroke-width="1.5" fill="none" opacity="0.9"/>
<path d="M65.50,408 v3.6 M72.84,408 v1.6 M80.19,408 v1.6 M87.53,408 v1.6 M94.88,408 v3.6 M102.22,408 v1.6 M109.57,408 v1.6 M116.91,408 v1.6 M124.26,408 v3.6 M131.61,408 v1.6 M138.95,408 v1.6 M146.30,408 v1.6 M153.64,408 v3.6 M160.99,408 v1.6 M168.33,408 v1.6 M175.68,408 v1.6 M183.02,408 v3.6 M190.37,408 v1.6 M197.71,408 v1.6 M205.06,408 v1.6 M212.40,408 v3.6" stroke="#222" stroke-width="0.9" fill="none"/>
<path d="M65.5,408.00 h-4.0 M65.5,405.26 h-2.0 M65.5,402.52 h-2.0 M65.5,399.78 h-2.0 M65.5,397.04 h-2.0 M65.5,394.30 h-4.0 M65.5,391.56 h-2.0 M65.5,388.82 h-2.0 M65.5,386.08 h-2.0 M65.5,383.34 h-2.0 M65.5,380.60 h-4.0 M65.5,377.86 h-2.0 M65.5,375.12 h-2.0 M65.5,372.38 h-2.0 M65.5,369.64 h-2.0 M65.5,366.90 h-4.0 M65.5,364.16 h-2.0 M65.5,361.42 h-2.0 M65.5,358.68 h-2.0 M65.5,355.94 h-2.0 M65.5,353.20 h-4.0 M65.5,350.46 h-2.0 M65.5,347.72 h-2.0 M65.5,344.98 h-2.0 M65.5,342.24 h-2.0 M65.5,339.50 h-4.0 M65.5,336.76 h-2.0 M65.5,334.02 h-2.0 M65.5,331.28 h-2.0 M65.5,328.54 h-2.0" stroke="#222" stroke-width="0.8" fill="none"/>
<text x="67.5" y="420.8" class="tk">0</text>
<text x="93.0" y="420.8" class="tk">200</text>
<text x="122.4" y="420.8" class="tk">400</text>
<text x="151.7" y="420.8" class="tk">600</text>
<text x="181.1" y="420.8" class="tk">800</text>
<text x="210.5" y="420.8" class="tk">1K</text>
</g>
<g>
<path d="M252.8,406.00 L252.8,405.96 L253.6,405.95 L254.3,405.94 L255.1,405.93 L255.8,405.91 L256.6,405.89 L257.3,405.87 L258.1,405.85 L258.8,405.81 L259.6,405.78 L260.3,405.74 L261.1,405.69 L261.8,405.63 L262.6,405.57 L263.3,405.49 L264.1,405.41 L264.8,405.32 L265.6,405.22 L266.3,405.10 L267.1,404.97 L267.8,404.83 L268.6,404.68 L269.3,404.51 L270.1,404.34 L270.8,404.14 L271.6,403.94 L272.3,403.72 L273.1,403.50 L273.8,403.26 L274.6,403.02 L275.3,402.76 L276.1,402.51 L276.8,402.25 L277.6,401.99 L278.3,401.73 L279.1,401.48 L279.8,401.23 L280.6,400.99 L281.3,400.77 L282.1,400.56 L282.8,400.37 L283.6,400.19 L284.3,400.05 L285.1,399.92 L285.8,399.82 L286.6,399.75 L287.3,399.71 L288.1,399.70 L288.8,399.73 L289.6,399.80 L290.3,399.93 L291.1,400.09 L291.8,400.30 L292.6,400.54 L293.3,400.81 L294.1,401.11 L294.8,401.43 L295.6,401.75 L296.3,402.09 L297.1,402.43 L297.8,402.76 L298.6,403.08 L299.3,403.40 L300.1,403.69 L300.8,403.97 L301.6,404.23 L302.3,404.47 L303.1,404.69 L303.8,404.88 L304.6,405.05 L305.3,405.21 L306.1,405.34 L306.8,405.45 L307.6,405.55 L308.3,405.64 L309.1,405.71 L309.8,405.77 L310.6,405.81 L311.3,405.85 L312.1,405.88 L312.8,405.91 L313.6,405.93 L314.3,405.95 L315.1,405.96 L315.1,406.00 Z" fill="#f3e08c" style="mix-blend-mode:multiply"/>
<path d="M253.3,406.00 L253.3,405.95 L254.1,405.92 L254.8,405.87 L255.6,405.81 L256.3,405.73 L257.1,405.61 L257.8,405.45 L258.6,405.25 L259.3,404.98 L260.1,404.66 L260.8,404.25 L261.6,403.78 L262.3,403.22 L263.1,402.60 L263.8,401.91 L264.6,401.18 L265.3,400.42 L266.1,399.67 L266.8,398.96 L267.6,398.31 L268.3,397.77 L269.1,397.35 L269.8,397.09 L270.6,397.00 L271.3,397.06 L272.1,397.27 L272.8,397.60 L273.6,398.04 L274.3,398.57 L275.1,399.18 L275.8,399.84 L276.6,400.51 L277.3,401.19 L278.1,401.85 L278.8,402.48 L279.6,403.06 L280.3,403.58 L281.1,404.04 L281.8,404.43 L282.6,404.77 L283.3,405.05 L284.1,405.28 L284.8,405.46 L285.6,405.60 L286.3,405.71 L287.1,405.79 L287.8,405.85 L288.6,405.90 L289.3,405.93 L289.3,406.00 Z" fill="#9be57c" style="mix-blend-mode:multiply"/>
<path d="M285.7,406.00 L285.7,405.50 L286.4,405.24 L287.2,404.87 L287.9,404.36 L288.7,403.65 L289.4,402.68 L290.2,401.40 L290.9,399.74 L291.7,397.63 L292.4,394.99 L293.2,391.77 L293.9,387.92 L294.7,383.42 L295.4,378.30 L296.2,372.59 L296.9,366.40 L297.7,359.86 L298.4,353.18 L299.2,346.55 L299.9,340.25 L300.7,334.53 L301.4,329.64 L302.2,325.82 L302.9,325.80 L303.7,325.80 L304.4,325.80 L305.2,325.80 L305.9,328.52 L306.7,333.87 L307.4,340.34 L308.2,347.57 L308.9,355.15 L309.7,362.74 L310.4,370.01 L311.2,376.73 L311.9,382.72 L312.7,387.90 L313.4,392.24 L314.2,395.77 L314.9,398.56 L315.7,400.72 L316.4,402.33 L317.2,403.51 L317.9,404.34 L318.7,404.92 L319.4,405.32 L319.4,406.00 Z" fill="#84f7f7" style="mix-blend-mode:multiply"/>
<path d="M231.3,406.00 C232.8,406.00 237.0,406.03 240.0,406.00 C243.0,405.97 247.1,406.38 249.2,405.80 C251.3,405.22 251.4,403.47 252.5,402.50 C253.6,401.53 254.7,400.28 255.8,400.00 C256.9,399.72 258.1,400.33 259.2,400.80 C260.3,401.27 261.2,403.07 262.5,402.80 C263.8,402.53 265.3,400.22 266.7,399.20 C268.1,398.18 269.3,396.78 270.8,396.70 C272.3,396.62 274.0,398.15 275.8,398.70 C277.6,399.25 279.9,399.92 281.7,400.00 C283.5,400.08 285.2,400.03 286.7,399.20 C288.2,398.37 289.6,397.65 290.8,395.00 C292.1,392.35 293.1,388.58 294.2,383.30 C295.3,378.02 296.5,369.40 297.5,363.30 C298.5,357.20 299.2,350.92 300.0,346.70 C300.8,342.48 301.8,338.57 302.5,338.00 C303.2,337.43 303.8,341.72 304.2,343.30 C304.6,344.88 304.7,346.93 305.2,347.50 C305.7,348.07 306.3,346.15 307.0,346.70 C307.7,347.25 308.4,349.55 309.2,350.80 C310.0,352.05 311.1,352.38 312.0,354.20 C312.9,356.02 314.0,358.23 314.7,361.70 C315.4,365.17 315.8,370.00 316.3,375.00 C316.9,380.00 317.4,387.25 318.0,391.70 C318.6,396.15 319.1,399.40 319.7,401.70 C320.2,404.00 320.7,404.78 321.3,405.50 C321.9,406.22 320.2,405.92 323.3,406.00 C326.4,406.08 330.2,406.00 340.0,406.00 C349.8,406.00 375.2,406.00 382.3,406.00" fill="none" stroke="#1c1c1c" stroke-width="1.15" stroke-linejoin="round"/>
<path d="M231.3,406.00 L232.1,406.00 L232.8,406.00 L233.6,406.00 L234.3,406.00 L235.1,406.00 L235.8,406.00 L236.6,406.00 L237.3,406.00 L238.1,406.00 L238.8,406.00 L239.6,406.00 L240.3,406.00 L241.1,406.00 L241.8,406.00 L242.6,406.00 L243.3,406.00 L244.1,406.00 L244.8,406.00 L245.6,406.00 L246.3,405.99 L247.1,405.99 L247.8,405.99 L248.6,405.99 L249.3,405.98 L250.1,405.98 L250.8,405.97 L251.6,405.96 L252.3,405.94 L253.1,405.91 L253.8,405.88 L254.6,405.83 L255.3,405.76 L256.1,405.67 L256.8,405.54 L257.6,405.38 L258.3,405.16 L259.1,404.89 L259.8,404.55 L260.6,404.13 L261.3,403.63 L262.1,403.04 L262.8,402.37 L263.6,401.63 L264.3,400.82 L265.1,399.98 L265.8,399.12 L266.6,398.27 L267.3,397.46 L268.1,396.73 L268.8,396.11 L269.6,395.63 L270.3,395.29 L271.1,395.10 L271.8,395.05 L272.6,395.11 L273.3,395.29 L274.1,395.55 L274.8,395.89 L275.6,396.28 L276.3,396.69 L277.1,397.11 L277.8,397.52 L278.6,397.90 L279.3,398.24 L280.1,398.53 L280.8,398.77 L281.6,398.95 L282.3,399.08 L283.1,399.16 L283.8,399.18 L284.6,399.14 L285.3,399.03 L286.1,398.85 L286.8,398.57 L287.6,398.17 L288.3,397.60 L289.1,396.85 L289.8,395.85 L290.6,394.53 L291.3,392.84 L292.1,390.68 L292.8,388.01 L293.6,384.75 L294.3,380.87 L295.1,376.37 L295.8,371.26 L296.6,365.62 L297.3,359.57 L298.1,353.26 L298.8,346.90 L299.6,340.72 L300.3,334.98 L301.1,329.93 L301.8,325.83 L302.6,325.80 L303.3,325.80 L304.1,325.80 L304.8,325.80 L305.6,325.80 L306.3,330.52 L307.1,336.61 L307.8,343.61 L308.6,351.15 L309.3,358.85 L310.1,366.36 L310.8,373.41 L311.6,379.81 L312.3,385.41 L313.1,390.18 L313.8,394.11 L314.6,397.26 L315.3,399.72 L316.1,401.59 L316.8,402.97 L317.6,403.96 L318.3,404.66 L319.1,405.14 L319.8,405.46 L320.6,405.67 L321.3,405.80 L322.1,405.88 L322.8,405.93 L323.6,405.96 L324.3,405.98 L325.1,405.99 L325.8,405.99 L326.6,406.00 L327.3,406.00 L328.1,406.00 L328.8,406.00 L329.6,406.00 L330.3,406.00 L331.1,406.00 L331.8,406.00 L332.6,406.00 L333.3,406.00 L334.1,406.00 L334.8,406.00 L335.6,406.00 L336.3,406.00 L337.1,406.00 L337.8,406.00 L338.6,406.00 L339.3,406.00 L340.1,406.00 L340.8,406.00 L341.6,406.00 L342.3,406.00 L343.1,406.00 L343.8,406.00 L344.6,406.00 L345.3,406.00 L346.1,406.00 L346.8,406.00 L347.6,406.00 L348.3,406.00 L349.1,406.00 L349.8,406.00 L350.6,406.00 L351.3,406.00 L352.1,406.00 L352.8,406.00 L353.6,406.00 L354.3,406.00 L355.1,406.00 L355.8,406.00 L356.6,406.00 L357.3,406.00 L358.1,406.00 L358.8,406.00 L359.6,406.00 L360.3,406.00 L361.1,406.00 L361.8,406.00 L362.6,406.00 L363.3,406.00 L364.1,406.00 L364.8,406.00 L365.6,406.00 L366.3,406.00 L367.1,406.00 L367.8,406.00 L368.6,406.00 L369.3,406.00 L370.1,406.00 L370.8,406.00 L371.6,406.00 L372.3,406.00 L373.1,406.00 L373.8,406.00 L374.6,406.00 L375.3,406.00 L376.1,406.00 L376.8,406.00 L377.6,406.00 L378.3,406.00 L379.1,406.00 L379.8,406.00 L380.6,406.00 L381.3,406.00 L382.1,406.00" fill="none" stroke="#f014dc" stroke-width="1.3" stroke-linejoin="round" opacity="0.88"/>
<path d="M231.3,325.8 H383.3" stroke="#b0b0b0" stroke-width="1" fill="none"/>
<path d="M383.3,325.8 V406" stroke="#555" stroke-width="1.4" fill="none"/>
<path d="M231.3,325.8 V406" stroke="#333" stroke-width="1.0" fill="none"/>
<path d="M230.8,406.10 H384.0" stroke="#30103a" stroke-width="1.5" fill="none" opacity="0.9"/>
<path d="M231.30,406 v3.6 M238.67,406 v1.6 M246.04,406 v1.6 M253.41,406 v1.6 M260.78,406 v3.6 M268.15,406 v1.6 M275.52,406 v1.6 M282.89,406 v1.6 M290.26,406 v3.6 M297.63,406 v1.6 M305.00,406 v1.6 M312.37,406 v1.6 M319.74,406 v3.6 M327.11,406 v1.6 M334.48,406 v1.6 M341.85,406 v1.6 M349.22,406 v3.6 M356.59,406 v1.6 M363.96,406 v1.6 M371.33,406 v1.6 M378.70,406 v3.6" stroke="#222" stroke-width="0.9" fill="none"/>
<path d="M231.3,406.00 h-4.0 M231.3,402.16 h-2.0 M231.3,398.32 h-2.0 M231.3,394.48 h-2.0 M231.3,390.64 h-2.0 M231.3,386.80 h-4.0 M231.3,382.96 h-2.0 M231.3,379.12 h-2.0 M231.3,375.28 h-2.0 M231.3,371.44 h-2.0 M231.3,367.60 h-4.0 M231.3,363.76 h-2.0 M231.3,359.92 h-2.0 M231.3,356.08 h-2.0 M231.3,352.24 h-2.0 M231.3,348.40 h-4.0 M231.3,344.56 h-2.0 M231.3,340.72 h-2.0 M231.3,336.88 h-2.0 M231.3,333.04 h-2.0 M231.3,329.20 h-4.0" stroke="#222" stroke-width="0.8" fill="none"/>
<text x="233.3" y="418.4" class="tk">0</text>
<text x="258.9" y="418.4" class="tk">200</text>
<text x="288.4" y="418.4" class="tk">400</text>
<text x="317.8" y="418.4" class="tk">600</text>
<text x="347.3" y="418.4" class="tk">800</text>
<text x="376.8" y="418.4" class="tk">1K</text>
</g>
<g>
<path d="M424.8,407.50 L424.8,407.48 L425.6,407.48 L426.3,407.47 L427.1,407.45 L427.8,407.43 L428.6,407.41 L429.3,407.37 L430.1,407.33 L430.8,407.27 L431.6,407.20 L432.3,407.11 L433.1,407.01 L433.8,406.89 L434.6,406.75 L435.3,406.59 L436.1,406.42 L436.8,406.23 L437.6,406.04 L438.3,405.84 L439.1,405.65 L439.8,405.46 L440.6,405.30 L441.3,405.15 L442.1,405.03 L442.8,404.95 L443.6,404.91 L444.3,404.90 L445.1,404.93 L445.8,404.98 L446.6,405.07 L447.3,405.17 L448.1,405.30 L448.8,405.44 L449.6,405.60 L450.3,405.77 L451.1,405.93 L451.8,406.10 L452.6,406.27 L453.3,406.42 L454.1,406.57 L454.8,406.71 L455.6,406.83 L456.3,406.94 L457.1,407.04 L457.8,407.13 L458.6,407.20 L459.3,407.26 L460.1,407.31 L460.8,407.35 L461.6,407.39 L462.3,407.41 L463.1,407.44 L463.8,407.45 L464.6,407.47 L465.3,407.47 L466.1,407.48 L466.1,407.50 Z" fill="#f3e08c" style="mix-blend-mode:multiply"/>
<path d="M425.8,407.50 L425.8,407.46 L426.6,407.39 L427.3,407.24 L428.1,406.94 L428.8,406.41 L429.6,405.57 L430.3,404.45 L431.1,403.17 L431.8,401.96 L432.6,401.13 L433.3,400.91 L434.1,401.31 L434.8,402.18 L435.6,403.32 L436.3,404.50 L437.1,405.53 L437.8,406.32 L438.6,406.85 L439.3,407.18 L440.1,407.35 L440.8,407.44 L440.8,407.50 Z" fill="#9be57c" style="mix-blend-mode:multiply"/>
<path d="M440.8,407.50 L440.8,407.04 L441.6,406.86 L442.3,406.61 L443.1,406.28 L443.8,405.85 L444.6,405.29 L445.3,404.57 L446.1,403.67 L446.8,402.55 L447.6,401.17 L448.3,399.51 L449.1,397.52 L449.8,395.18 L450.6,392.46 L451.3,389.35 L452.1,385.85 L452.8,381.96 L453.6,377.73 L454.3,373.19 L455.1,368.40 L455.8,363.46 L456.6,358.46 L457.3,353.52 L458.1,348.76 L458.8,344.30 L459.6,340.29 L460.3,336.83 L461.1,334.05 L461.8,332.02 L462.6,330.83 L463.3,330.51 L464.1,331.03 L464.8,332.38 L465.6,334.49 L466.3,337.32 L467.1,340.76 L467.8,344.72 L468.6,349.08 L469.3,353.72 L470.1,358.53 L470.8,363.39 L471.6,368.20 L472.3,372.86 L473.1,377.29 L473.8,381.45 L474.6,385.27 L475.3,388.74 L476.1,391.84 L476.8,394.57 L477.6,396.93 L478.3,398.96 L479.1,400.67 L479.8,402.10 L480.6,403.28 L481.3,404.23 L482.1,405.00 L482.8,405.61 L483.6,406.08 L484.3,406.45 L485.1,406.73 L485.8,406.94 L485.8,407.50 Z" fill="#84f7f7" style="mix-blend-mode:multiply"/>
<path d="M399.5,407.50 C401.2,407.50 407.6,407.50 410.0,407.50 C412.4,407.50 413.1,407.55 414.2,407.50 C415.3,407.45 415.9,407.73 416.7,407.20 C417.4,406.67 418.0,405.12 418.7,404.30 C419.4,403.48 419.8,402.65 420.8,402.30 C421.9,401.95 423.5,402.28 425.0,402.20 C426.5,402.12 428.6,402.05 430.0,401.80 C431.4,401.55 432.3,400.67 433.3,400.70 C434.3,400.73 434.8,401.95 435.8,402.00 C436.8,402.05 438.1,401.12 439.2,401.00 C440.3,400.88 441.4,401.35 442.5,401.30 C443.6,401.25 444.8,401.58 445.8,400.70 C446.8,399.82 447.7,398.45 448.7,396.00 C449.7,393.55 450.6,390.45 451.7,386.00 C452.8,381.55 453.9,374.85 455.0,369.30 C456.1,363.75 457.3,357.42 458.3,352.70 C459.3,347.98 460.2,343.57 460.8,341.00 C461.4,338.43 461.7,337.30 462.2,337.30 C462.7,337.30 463.2,339.27 463.7,341.00 C464.2,342.73 464.7,345.98 465.3,347.70 C465.9,349.42 466.8,350.42 467.5,351.30 C468.2,352.18 469.0,351.80 469.7,353.00 C470.4,354.20 470.9,356.05 471.7,358.50 C472.4,360.95 473.4,365.07 474.2,367.70 C475.0,370.33 475.6,370.97 476.3,374.30 C477.0,377.63 477.7,383.53 478.3,387.70 C478.9,391.87 479.4,396.25 480.0,399.30 C480.6,402.35 481.1,404.63 481.7,406.00 C482.2,407.37 480.2,407.25 483.3,407.50 C486.4,407.75 489.2,407.50 500.0,407.50 C510.8,407.50 539.8,407.50 547.8,407.50" fill="none" stroke="#1c1c1c" stroke-width="1.15" stroke-linejoin="round"/>
<path d="M399.5,407.50 L400.2,407.50 L401.0,407.50 L401.8,407.50 L402.5,407.50 L403.2,407.50 L404.0,407.50 L404.8,407.50 L405.5,407.50 L406.2,407.50 L407.0,407.50 L407.8,407.50 L408.5,407.50 L409.2,407.50 L410.0,407.50 L410.8,407.50 L411.5,407.50 L412.2,407.50 L413.0,407.50 L413.8,407.50 L414.5,407.50 L415.2,407.50 L416.0,407.50 L416.8,407.50 L417.5,407.50 L418.2,407.50 L419.0,407.50 L419.8,407.50 L420.5,407.50 L421.2,407.50 L422.0,407.50 L422.8,407.49 L423.5,407.49 L424.2,407.49 L425.0,407.47 L425.8,407.44 L426.5,407.37 L427.2,407.21 L428.0,406.91 L428.8,406.38 L429.5,405.55 L430.2,404.41 L431.0,403.07 L431.8,401.76 L432.5,400.78 L433.2,400.37 L434.0,400.57 L434.8,401.24 L435.5,402.19 L436.2,403.19 L437.0,404.03 L437.8,404.63 L438.5,404.94 L439.2,405.03 L440.0,404.94 L440.8,404.74 L441.5,404.46 L442.2,404.12 L443.0,403.74 L443.8,403.28 L444.5,402.73 L445.2,402.07 L446.0,401.24 L446.8,400.23 L447.5,398.98 L448.2,397.47 L449.0,395.65 L449.8,393.49 L450.5,390.96 L451.2,388.05 L452.0,384.74 L452.8,381.04 L453.5,376.99 L454.2,372.61 L455.0,367.97 L455.8,363.16 L456.5,358.27 L457.2,353.41 L458.0,348.71 L458.8,344.31 L459.5,340.31 L460.2,336.87 L461.0,334.07 L461.8,332.03 L462.5,330.80 L463.2,330.44 L464.0,330.93 L464.8,332.23 L465.5,334.31 L466.2,337.09 L467.0,340.50 L467.8,344.43 L468.5,348.77 L469.2,353.40 L470.0,358.20 L470.8,363.06 L471.5,367.88 L472.2,372.55 L473.0,377.01 L473.8,381.18 L474.5,385.03 L475.2,388.52 L476.0,391.64 L476.8,394.40 L477.5,396.79 L478.2,398.84 L479.0,400.57 L479.8,402.02 L480.5,403.21 L481.2,404.18 L482.0,404.95 L482.8,405.57 L483.5,406.05 L484.2,406.43 L485.0,406.71 L485.8,406.93 L486.5,407.09 L487.2,407.21 L488.0,407.30 L488.8,407.36 L489.5,407.40 L490.2,407.43 L491.0,407.46 L491.8,407.47 L492.5,407.48 L493.2,407.49 L494.0,407.49 L494.8,407.49 L495.5,407.50 L496.2,407.50 L497.0,407.50 L497.8,407.50 L498.5,407.50 L499.2,407.50 L500.0,407.50 L500.8,407.50 L501.5,407.50 L502.2,407.50 L503.0,407.50 L503.8,407.50 L504.5,407.50 L505.2,407.50 L506.0,407.50 L506.8,407.50 L507.5,407.50 L508.2,407.50 L509.0,407.50 L509.8,407.50 L510.5,407.50 L511.2,407.50 L512.0,407.50 L512.8,407.50 L513.5,407.50 L514.2,407.50 L515.0,407.50 L515.8,407.50 L516.5,407.50 L517.2,407.50 L518.0,407.50 L518.8,407.50 L519.5,407.50 L520.2,407.50 L521.0,407.50 L521.8,407.50 L522.5,407.50 L523.2,407.50 L524.0,407.50 L524.8,407.50 L525.5,407.50 L526.2,407.50 L527.0,407.50 L527.8,407.50 L528.5,407.50 L529.2,407.50 L530.0,407.50 L530.8,407.50 L531.5,407.50 L532.2,407.50 L533.0,407.50 L533.8,407.50 L534.5,407.50 L535.2,407.50 L536.0,407.50 L536.8,407.50 L537.5,407.50 L538.2,407.50 L539.0,407.50 L539.8,407.50 L540.5,407.50 L541.2,407.50 L542.0,407.50 L542.8,407.50 L543.5,407.50 L544.2,407.50 L545.0,407.50 L545.8,407.50 L546.5,407.50 L547.2,407.50" fill="none" stroke="#f014dc" stroke-width="1.3" stroke-linejoin="round" opacity="0.88"/>
<path d="M399.5,328.2 H548.8" stroke="#b0b0b0" stroke-width="1" fill="none"/>
<path d="M548.8,328.2 V407.5" stroke="#555" stroke-width="1.4" fill="none"/>
<path d="M399.5,328.2 V407.5" stroke="#333" stroke-width="1.0" fill="none"/>
<path d="M399.0,407.60 H549.5" stroke="#30103a" stroke-width="1.5" fill="none" opacity="0.9"/>
<path d="M399.50,407.5 v3.6 M406.74,407.5 v1.6 M413.97,407.5 v1.6 M421.20,407.5 v1.6 M428.44,407.5 v3.6 M435.68,407.5 v1.6 M442.91,407.5 v1.6 M450.14,407.5 v1.6 M457.38,407.5 v3.6 M464.62,407.5 v1.6 M471.85,407.5 v1.6 M479.08,407.5 v1.6 M486.32,407.5 v3.6 M493.55,407.5 v1.6 M500.79,407.5 v1.6 M508.02,407.5 v1.6 M515.26,407.5 v3.6 M522.50,407.5 v1.6 M529.73,407.5 v1.6 M536.96,407.5 v1.6 M544.20,407.5 v3.6" stroke="#222" stroke-width="0.9" fill="none"/>
<path d="M399.5,407.50 h-4.0 M399.5,404.66 h-2.0 M399.5,401.82 h-2.0 M399.5,398.98 h-2.0 M399.5,396.14 h-2.0 M399.5,393.30 h-4.0 M399.5,390.46 h-2.0 M399.5,387.62 h-2.0 M399.5,384.78 h-2.0 M399.5,381.94 h-2.0 M399.5,379.10 h-4.0 M399.5,376.26 h-2.0 M399.5,373.42 h-2.0 M399.5,370.58 h-2.0 M399.5,367.74 h-2.0 M399.5,364.90 h-4.0 M399.5,362.06 h-2.0 M399.5,359.22 h-2.0 M399.5,356.38 h-2.0 M399.5,353.54 h-2.0 M399.5,350.70 h-4.0 M399.5,347.86 h-2.0 M399.5,345.02 h-2.0 M399.5,342.18 h-2.0 M399.5,339.34 h-2.0 M399.5,336.50 h-4.0 M399.5,333.66 h-2.0 M399.5,330.82 h-2.0" stroke="#222" stroke-width="0.8" fill="none"/>
<text x="401.5" y="420.1" class="tk">0</text>
<text x="426.5" y="420.1" class="tk">200</text>
<text x="455.5" y="420.1" class="tk">400</text>
<text x="484.4" y="420.1" class="tk">600</text>
<text x="513.4" y="420.1" class="tk">800</text>
<text x="542.3" y="420.1" class="tk">1K</text>
</g>
<text x="132.8" y="433.8" class="aad">7-AAD</text>
<text x="316.8" y="432.2" class="aad">7-AAD</text>
<text x="480" y="433.2" class="aad">7-AAD</text>
<rect x="51.60" y="561.60" width="13.40" height="1.60" fill="#ffffff" stroke="#0a0a0a" stroke-width="1.4"/>
<path d="M58.30,561.00 V562.20 M55.70,561.00 h5.2 M55.70,562.20 h5.2" stroke="#0a0a0a" stroke-width="1.05" fill="none"/>
<rect x="67.40" y="561.60" width="13.40" height="1.60" fill="#c0504d" stroke="#0a0a0a" stroke-width="1.4"/>
<path d="M74.10,561.00 V562.20 M71.50,561.00 h5.2 M71.50,562.20 h5.2" stroke="#0a0a0a" stroke-width="1.05" fill="none"/>
<rect x="83.40" y="556.30" width="13.40" height="6.90" fill="#ffffff" stroke="#0a0a0a" stroke-width="1.4"/>
<path d="M90.10,553.90 V558.70 M87.50,553.90 h5.2 M87.50,558.70 h5.2" stroke="#0a0a0a" stroke-width="1.05" fill="none"/>
<rect x="99.60" y="548.30" width="13.40" height="14.90" fill="#4f81bd" stroke="#0a0a0a" stroke-width="1.4"/>
<path d="M106.30,546.50 V550.10 M103.70,546.50 h5.2 M103.70,550.10 h5.2" stroke="#0a0a0a" stroke-width="1.05" fill="none"/>
<rect x="127.20" y="524.50" width="13.40" height="38.70" fill="#ffffff" stroke="#0a0a0a" stroke-width="1.4"/>
<path d="M133.90,521.20 V527.80 M131.30,521.20 h5.2 M131.30,527.80 h5.2" stroke="#0a0a0a" stroke-width="1.05" fill="none"/>
<rect x="143.00" y="538.80" width="13.40" height="24.40" fill="#c0504d" stroke="#0a0a0a" stroke-width="1.4"/>
<path d="M149.70,536.20 V541.40 M147.10,536.20 h5.2 M147.10,541.40 h5.2" stroke="#0a0a0a" stroke-width="1.05" fill="none"/>
<rect x="158.20" y="523.00" width="13.40" height="40.20" fill="#ffffff" stroke="#0a0a0a" stroke-width="1.4"/>
<path d="M164.90,516.00 V530.00 M162.30,516.00 h5.2 M162.30,530.00 h5.2" stroke="#0a0a0a" stroke-width="1.05" fill="none"/>
<rect x="174.70" y="482.00" width="13.40" height="81.20" fill="#4f81bd" stroke="#0a0a0a" stroke-width="1.4"/>
<path d="M181.40,476.20 V487.80 M178.80,476.20 h5.2 M178.80,487.80 h5.2" stroke="#0a0a0a" stroke-width="1.05" fill="none"/>
<rect x="202.00" y="497.50" width="13.40" height="65.70" fill="#ffffff" stroke="#0a0a0a" stroke-width="1.4"/>
<path d="M208.70,486.00 V509.00 M206.10,486.00 h5.2 M206.10,509.00 h5.2" stroke="#0a0a0a" stroke-width="1.05" fill="none"/>
<rect x="218.10" y="519.50" width="13.40" height="43.70" fill="#c0504d" stroke="#0a0a0a" stroke-width="1.4"/>
<path d="M224.80,514.30 V524.70 M222.20,514.30 h5.2 M222.20,524.70 h5.2" stroke="#0a0a0a" stroke-width="1.05" fill="none"/>
<rect x="233.90" y="505.80" width="13.40" height="57.40" fill="#ffffff" stroke="#0a0a0a" stroke-width="1.4"/>
<path d="M240.60,503.60 V508.00 M238.00,503.60 h5.2 M238.00,508.00 h5.2" stroke="#0a0a0a" stroke-width="1.05" fill="none"/>
<rect x="249.80" y="482.00" width="13.40" height="81.20" fill="#4f81bd" stroke="#0a0a0a" stroke-width="1.4"/>
<path d="M256.50,471.60 V492.40 M253.90,471.60 h5.2 M253.90,492.40 h5.2" stroke="#0a0a0a" stroke-width="1.05" fill="none"/>
<path d="M43.9,464.9 V564.1" stroke="#000" stroke-width="2.3" fill="none"/>
<path d="M40.35,563.2 H270" stroke="#000" stroke-width="1.9" fill="none"/>
<text x="33.9" y="568.5" class="yl">0</text>
<text x="33.9" y="549.0" class="yl">1</text>
<text x="33.9" y="529.5" class="yl">2</text>
<text x="33.9" y="510.0" class="yl">3</text>
<text x="33.9" y="490.5" class="yl">4</text>
<text x="33.9" y="471.0" class="yl">5</text>
<path d="M43.9,563.20 h-3.55 M43.9,543.70 h-3.55 M43.9,524.20 h-3.55 M43.9,504.70 h-3.55 M43.9,485.20 h-3.55 M43.9,465.70 h-3.55" stroke="#000" stroke-width="1.6" fill="none"/>
<text x="82.3" y="582.6" class="cat">con</text>
<text x="158.8" y="582.6" class="cat">100</text>
<text x="233.2" y="582.6" class="cat">150</text>
<circle cx="106.3" cy="542.0" r="1.45" fill="#111"/>
<circle cx="146.8" cy="532.0" r="1.45" fill="#111"/>
<circle cx="151.2" cy="532.0" r="1.45" fill="#111"/>
<circle cx="179.2" cy="471.0" r="1.45" fill="#111"/>
<circle cx="183.5" cy="471.0" r="1.45" fill="#111"/>
<circle cx="224.6" cy="508.5" r="1.45" fill="#111"/>
<circle cx="256.8" cy="466.5" r="1.45" fill="#111"/>
<text transform="translate(18.6,525.7) rotate(-90)" class="ttl">subG1 cell population [%]</text>
<rect x="331.00" y="493.30" width="13.40" height="71.30" fill="#ffffff" stroke="#0a0a0a" stroke-width="1.4"/>
<path d="M337.70,489.60 V497.00 M335.10,489.60 h5.2 M335.10,497.00 h5.2" stroke="#0a0a0a" stroke-width="1.05" fill="none"/>
<rect x="346.40" y="497.00" width="13.40" height="67.60" fill="#c0504d" stroke="#0a0a0a" stroke-width="1.4"/>
<path d="M353.10,495.00 V499.00 M350.50,495.00 h5.2 M350.50,499.00 h5.2" stroke="#0a0a0a" stroke-width="1.05" fill="none"/>
<rect x="361.60" y="500.50" width="13.40" height="64.10" fill="#ffffff" stroke="#0a0a0a" stroke-width="1.4"/>
<path d="M368.30,493.90 V507.10 M365.70,493.90 h5.2 M365.70,507.10 h5.2" stroke="#0a0a0a" stroke-width="1.05" fill="none"/>
<rect x="377.00" y="508.00" width="13.40" height="56.60" fill="#4f81bd" stroke="#0a0a0a" stroke-width="1.4"/>
<path d="M383.70,507.00 V509.00 M381.10,507.00 h5.2 M381.10,509.00 h5.2" stroke="#0a0a0a" stroke-width="1.05" fill="none"/>
<rect x="401.60" y="555.80" width="13.40" height="8.80" fill="#ffffff" stroke="#0a0a0a" stroke-width="1.4"/>
<path d="M408.30,554.80 V556.80 M405.70,554.80 h5.2 M405.70,556.80 h5.2" stroke="#0a0a0a" stroke-width="1.05" fill="none"/>
<rect x="417.00" y="547.00" width="13.40" height="17.60" fill="#c0504d" stroke="#0a0a0a" stroke-width="1.4"/>
<path d="M423.70,544.50 V549.50 M421.10,544.50 h5.2 M421.10,549.50 h5.2" stroke="#0a0a0a" stroke-width="1.05" fill="none"/>
<rect x="432.00" y="545.00" width="13.40" height="19.60" fill="#ffffff" stroke="#0a0a0a" stroke-width="1.4"/>
<path d="M438.70,542.80 V547.20 M436.10,542.80 h5.2 M436.10,547.20 h5.2" stroke="#0a0a0a" stroke-width="1.05" fill="none"/>
<rect x="447.00" y="553.80" width="13.40" height="10.80" fill="#4f81bd" stroke="#0a0a0a" stroke-width="1.4"/>
<path d="M453.70,551.90 V555.70 M451.10,551.90 h5.2 M451.10,555.70 h5.2" stroke="#0a0a0a" stroke-width="1.05" fill="none"/>
<rect x="472.60" y="553.30" width="13.40" height="11.30" fill="#ffffff" stroke="#0a0a0a" stroke-width="1.4"/>
<path d="M479.30,551.80 V554.80 M476.70,551.80 h5.2 M476.70,554.80 h5.2" stroke="#0a0a0a" stroke-width="1.05" fill="none"/>
<rect x="488.00" y="556.30" width="13.40" height="8.30" fill="#c0504d" stroke="#0a0a0a" stroke-width="1.4"/>
<path d="M494.70,554.50 V558.10 M492.10,554.50 h5.2 M492.10,558.10 h5.2" stroke="#0a0a0a" stroke-width="1.05" fill="none"/>
<rect x="503.00" y="549.50" width="13.40" height="15.10" fill="#ffffff" stroke="#0a0a0a" stroke-width="1.4"/>
<path d="M509.70,547.40 V551.60 M507.10,547.40 h5.2 M507.10,551.60 h5.2" stroke="#0a0a0a" stroke-width="1.05" fill="none"/>
<rect x="518.00" y="560.50" width="13.40" height="4.10" fill="#4f81bd" stroke="#0a0a0a" stroke-width="1.4"/>
<path d="M524.70,559.70 V561.30 M522.10,559.70 h5.2 M522.10,561.30 h5.2" stroke="#0a0a0a" stroke-width="1.05" fill="none"/>
<path d="M324.4,466.3 V565.5" stroke="#000" stroke-width="2.3" fill="none"/>
<path d="M320.85,564.6 H537.5" stroke="#000" stroke-width="1.9" fill="none"/>
<text x="315.5" y="569.9" class="yl">0</text>
<text x="315.5" y="550.4" class="yl">20</text>
<text x="315.5" y="530.9" class="yl">40</text>
<text x="315.5" y="511.4" class="yl">60</text>
<text x="315.5" y="491.9" class="yl">80</text>
<text x="315.5" y="472.4" class="yl">100</text>
<path d="M324.4,564.60 h-3.55 M324.4,545.10 h-3.55 M324.4,525.60 h-3.55 M324.4,506.10 h-3.55 M324.4,486.60 h-3.55 M324.4,467.10 h-3.55" stroke="#000" stroke-width="1.6" fill="none"/>
<text x="359.3" y="582.6" class="cat">con</text>
<text x="430.5" y="582.6" class="cat">100</text>
<text x="502.5" y="582.6" class="cat">150</text>
<circle cx="421.2" cy="540.3" r="1.45" fill="#111"/>
<circle cx="425.4" cy="540.3" r="1.45" fill="#111"/>
<circle cx="451.2" cy="547.8" r="1.45" fill="#111"/>
<circle cx="455.4" cy="547.8" r="1.45" fill="#111"/>
<circle cx="520.7" cy="554.8" r="1.45" fill="#111"/>
<circle cx="525.0" cy="554.8" r="1.45" fill="#111"/>
<circle cx="529.3" cy="554.8" r="1.45" fill="#111"/>
<text transform="translate(289.9,517.5) rotate(-90)" class="ttl">G1 cell population [%]</text>
<rect x="52.20" y="686.00" width="13.40" height="31.90" fill="#ffffff" stroke="#0a0a0a" stroke-width="1.4"/>
<path d="M58.90,681.60 V690.40 M56.30,681.60 h5.2 M56.30,690.40 h5.2" stroke="#0a0a0a" stroke-width="1.05" fill="none"/>
<rect x="68.30" y="648.00" width="13.40" height="69.90" fill="#c0504d" stroke="#0a0a0a" stroke-width="1.4"/>
<path d="M75.00,645.80 V650.20 M72.40,645.80 h5.2 M72.40,650.20 h5.2" stroke="#0a0a0a" stroke-width="1.05" fill="none"/>
<rect x="83.90" y="673.00" width="13.40" height="44.90" fill="#ffffff" stroke="#0a0a0a" stroke-width="1.4"/>
<path d="M90.60,665.80 V680.20 M88.00,665.80 h5.2 M88.00,680.20 h5.2" stroke="#0a0a0a" stroke-width="1.05" fill="none"/>
<rect x="99.50" y="648.50" width="13.40" height="69.40" fill="#4f81bd" stroke="#0a0a0a" stroke-width="1.4"/>
<path d="M106.20,642.80 V654.20 M103.60,642.80 h5.2 M103.60,654.20 h5.2" stroke="#0a0a0a" stroke-width="1.05" fill="none"/>
<rect x="125.30" y="687.60" width="13.40" height="30.30" fill="#ffffff" stroke="#0a0a0a" stroke-width="1.4"/>
<path d="M132.00,683.80 V691.40 M129.40,683.80 h5.2 M129.40,691.40 h5.2" stroke="#0a0a0a" stroke-width="1.05" fill="none"/>
<rect x="141.30" y="654.00" width="13.40" height="63.90" fill="#c0504d" stroke="#0a0a0a" stroke-width="1.4"/>
<path d="M148.00,644.60 V663.40 M145.40,644.60 h5.2 M145.40,663.40 h5.2" stroke="#0a0a0a" stroke-width="1.05" fill="none"/>
<rect x="156.80" y="676.50" width="13.40" height="41.40" fill="#ffffff" stroke="#0a0a0a" stroke-width="1.4"/>
<path d="M163.50,671.60 V681.40 M160.90,671.60 h5.2 M160.90,681.40 h5.2" stroke="#0a0a0a" stroke-width="1.05" fill="none"/>
<rect x="172.40" y="683.50" width="13.40" height="34.40" fill="#4f81bd" stroke="#0a0a0a" stroke-width="1.4"/>
<path d="M179.10,681.00 V686.00 M176.50,681.00 h5.2 M176.50,686.00 h5.2" stroke="#0a0a0a" stroke-width="1.05" fill="none"/>
<rect x="199.00" y="696.80" width="13.40" height="21.10" fill="#ffffff" stroke="#0a0a0a" stroke-width="1.4"/>
<path d="M205.70,693.50 V700.10 M203.10,693.50 h5.2 M203.10,700.10 h5.2" stroke="#0a0a0a" stroke-width="1.05" fill="none"/>
<rect x="214.50" y="681.00" width="13.40" height="36.90" fill="#c0504d" stroke="#0a0a0a" stroke-width="1.4"/>
<path d="M221.20,677.50 V684.50 M218.60,677.50 h5.2 M218.60,684.50 h5.2" stroke="#0a0a0a" stroke-width="1.05" fill="none"/>
<rect x="230.20" y="695.30" width="13.40" height="22.60" fill="#ffffff" stroke="#0a0a0a" stroke-width="1.4"/>
<path d="M236.90,689.20 V701.40 M234.30,689.20 h5.2 M234.30,701.40 h5.2" stroke="#0a0a0a" stroke-width="1.05" fill="none"/>
<rect x="245.90" y="701.00" width="13.40" height="16.90" fill="#4f81bd" stroke="#0a0a0a" stroke-width="1.4"/>
<path d="M252.60,697.00 V705.00 M250.00,697.00 h5.2 M250.00,705.00 h5.2" stroke="#0a0a0a" stroke-width="1.05" fill="none"/>
<path d="M45.9,619.1 V718.8" stroke="#000" stroke-width="2.4" fill="none"/>
<path d="M42.3,717.9 H266.3" stroke="#000" stroke-width="1.9" fill="none"/>
<text x="34.9" y="723.2" class="yl">0</text>
<text x="34.9" y="698.7" class="yl">5</text>
<text x="34.9" y="674.2" class="yl">10</text>
<text x="34.9" y="649.7" class="yl">15</text>
<text x="34.9" y="625.2" class="yl">20</text>
<path d="M45.9,717.90 h-3.60 M45.9,693.40 h-3.60 M45.9,668.90 h-3.60 M45.9,644.40 h-3.60 M45.9,619.90 h-3.60" stroke="#000" stroke-width="1.6" fill="none"/>
<text x="81.3" y="736.1" class="cat">con</text>
<text x="155" y="736.1" class="cat">100</text>
<text x="228" y="736.1" class="cat">150</text>
<circle cx="70.3" cy="639.0" r="1.45" fill="#111"/>
<circle cx="74.6" cy="639.0" r="1.45" fill="#111"/>
<circle cx="78.9" cy="639.0" r="1.45" fill="#111"/>
<circle cx="103.8" cy="638.0" r="1.45" fill="#111"/>
<circle cx="108.2" cy="638.0" r="1.45" fill="#111"/>
<circle cx="146.2" cy="638.3" r="1.45" fill="#111"/>
<circle cx="150.5" cy="638.3" r="1.45" fill="#111"/>
<circle cx="219.7" cy="671.5" r="1.45" fill="#111"/>
<circle cx="224.0" cy="671.5" r="1.45" fill="#111"/>
<text transform="translate(15.6,670) rotate(-90)" class="ttl">S cell population [%]</text>
<rect x="328.20" y="704.30" width="12.80" height="13.60" fill="#ffffff" stroke="#0a0a0a" stroke-width="1.4"/>
<path d="M334.60,702.90 V705.70 M332.00,702.90 h5.2 M332.00,705.70 h5.2" stroke="#0a0a0a" stroke-width="1.05" fill="none"/>
<rect x="342.70" y="708.50" width="13.00" height="9.40" fill="#c0504d" stroke="#0a0a0a" stroke-width="1.4"/>
<path d="M349.20,707.90 V709.10 M346.60,707.90 h5.2 M346.60,709.10 h5.2" stroke="#0a0a0a" stroke-width="1.05" fill="none"/>
<rect x="358.30" y="700.50" width="13.00" height="17.40" fill="#ffffff" stroke="#0a0a0a" stroke-width="1.4"/>
<path d="M364.80,698.80 V702.20 M362.20,698.80 h5.2 M362.20,702.20 h5.2" stroke="#0a0a0a" stroke-width="1.05" fill="none"/>
<rect x="373.40" y="692.80" width="13.40" height="25.10" fill="#4f81bd" stroke="#0a0a0a" stroke-width="1.4"/>
<path d="M380.10,690.70 V694.90 M377.50,690.70 h5.2 M377.50,694.90 h5.2" stroke="#0a0a0a" stroke-width="1.05" fill="none"/>
<rect x="399.20" y="646.80" width="13.40" height="71.10" fill="#ffffff" stroke="#0a0a0a" stroke-width="1.4"/>
<path d="M405.90,641.90 V651.70 M403.30,641.90 h5.2 M403.30,651.70 h5.2" stroke="#0a0a0a" stroke-width="1.05" fill="none"/>
<rect x="414.20" y="657.80" width="12.80" height="60.10" fill="#c0504d" stroke="#0a0a0a" stroke-width="1.4"/>
<path d="M420.60,655.70 V659.90 M418.00,655.70 h5.2 M418.00,659.90 h5.2" stroke="#0a0a0a" stroke-width="1.05" fill="none"/>
<rect x="428.90" y="655.50" width="13.00" height="62.40" fill="#ffffff" stroke="#0a0a0a" stroke-width="1.4"/>
<path d="M435.40,654.30 V656.70 M432.80,654.30 h5.2 M432.80,656.70 h5.2" stroke="#0a0a0a" stroke-width="1.05" fill="none"/>
<rect x="444.00" y="655.30" width="13.40" height="62.60" fill="#4f81bd" stroke="#0a0a0a" stroke-width="1.4"/>
<path d="M450.70,654.30 V656.30 M448.10,654.30 h5.2 M448.10,656.30 h5.2" stroke="#0a0a0a" stroke-width="1.05" fill="none"/>
<rect x="470.10" y="642.30" width="13.40" height="75.60" fill="#ffffff" stroke="#0a0a0a" stroke-width="1.4"/>
<path d="M476.80,640.80 V643.80 M474.20,640.80 h5.2 M474.20,643.80 h5.2" stroke="#0a0a0a" stroke-width="1.05" fill="none"/>
<rect x="485.10" y="646.00" width="13.00" height="71.90" fill="#c0504d" stroke="#0a0a0a" stroke-width="1.4"/>
<path d="M491.60,643.50 V648.50 M489.00,643.50 h5.2 M489.00,648.50 h5.2" stroke="#0a0a0a" stroke-width="1.05" fill="none"/>
<rect x="500.20" y="648.50" width="13.40" height="69.40" fill="#ffffff" stroke="#0a0a0a" stroke-width="1.4"/>
<path d="M506.90,647.20 V649.80 M504.30,647.20 h5.2 M504.30,649.80 h5.2" stroke="#0a0a0a" stroke-width="1.05" fill="none"/>
<rect x="515.20" y="636.80" width="13.40" height="81.10" fill="#4f81bd" stroke="#0a0a0a" stroke-width="1.4"/>
<path d="M521.90,635.80 V637.80 M519.30,635.80 h5.2 M519.30,637.80 h5.2" stroke="#0a0a0a" stroke-width="1.05" fill="none"/>
<path d="M321.9,619.6 V718.8" stroke="#000" stroke-width="2.3" fill="none"/>
<path d="M318.35,717.9 H535" stroke="#000" stroke-width="1.9" fill="none"/>
<text x="313.3" y="723.2" class="yl">0</text>
<text x="313.3" y="703.7" class="yl">20</text>
<text x="313.3" y="684.2" class="yl">40</text>
<text x="313.3" y="664.7" class="yl">60</text>
<text x="313.3" y="645.2" class="yl">80</text>
<text x="313.3" y="625.7" class="yl">100</text>
<path d="M321.9,717.90 h-3.55 M321.9,698.40 h-3.55 M321.9,678.90 h-3.55 M321.9,659.40 h-3.55 M321.9,639.90 h-3.55 M321.9,620.40 h-3.55" stroke="#000" stroke-width="1.6" fill="none"/>
<text x="355" y="736.1" class="cat">con</text>
<text x="427.5" y="736.1" class="cat">100</text>
<text x="498.8" y="736.1" class="cat">150</text>
<circle cx="350.0" cy="703.0" r="1.45" fill="#111"/>
<circle cx="380.0" cy="685.6" r="1.45" fill="#111"/>
<circle cx="420.5" cy="648.6" r="1.45" fill="#111"/>
<circle cx="517.5" cy="629.0" r="1.45" fill="#111"/>
<circle cx="521.8" cy="629.0" r="1.45" fill="#111"/>
<circle cx="526.1" cy="629.0" r="1.45" fill="#111"/>
<text transform="translate(288.6,672.3) rotate(-90)" class="ttl">G2/M cell population [%]</text>
<rect x="538.7" y="480.2" width="4.3" height="4.1" rx="0.6" fill="#ffffff" stroke="#0a0a0a" stroke-width="1.5"/>
<text x="545" y="487.4" class="lg">ctrl</text>
<rect x="538.7" y="495.6" width="4.3" height="4.1" rx="0.6" fill="#e0605c" stroke="#0a0a0a" stroke-width="1.5"/>
<text x="545" y="502.0" class="lg">ATF4<tspan dy="-8.2" dx="0.1">OE</tspan></text>
<rect x="538.7" y="511.8" width="4.3" height="4.1" rx="0.6" fill="#ffffff" stroke="#0a0a0a" stroke-width="1.5"/>
<text x="545" y="517.6" class="lg">ctrl shRNA</text>
<rect x="538.7" y="528.8" width="4.3" height="4.1" rx="0.6" fill="#4a90e0" stroke="#0a0a0a" stroke-width="1.5"/>
<text x="545" y="534.5" class="lg">ATF4<tspan dy="-6.4" dx="2.2">KD</tspan></text>
<rect x="547.8" y="638.6" width="4.3" height="4.1" rx="0.6" fill="#ffffff" stroke="#0a0a0a" stroke-width="1.5"/>
<text x="553.8" y="645.6" class="lg">ctrl</text>
<rect x="547.8" y="654.0" width="4.3" height="4.1" rx="0.6" fill="#e0605c" stroke="#0a0a0a" stroke-width="1.5"/>
<text x="553.8" y="660.7" class="lg">ATF4<tspan dy="-8.2" dx="0.1">OE</tspan></text>
<rect x="547.8" y="670.3" width="4.3" height="4.1" rx="0.6" fill="#ffffff" stroke="#0a0a0a" stroke-width="1.5"/>
<text x="553.8" y="676.1" class="lg">ctrl shRNA</text>
<rect x="547.8" y="687.3" width="4.3" height="4.1" rx="0.6" fill="#4a90e0" stroke="#0a0a0a" stroke-width="1.5"/>
<text x="553.8" y="692.9" class="lg">ATF4<tspan dy="-6.4" dx="2.2">KD</tspan></text>
</svg>
</body></html>
